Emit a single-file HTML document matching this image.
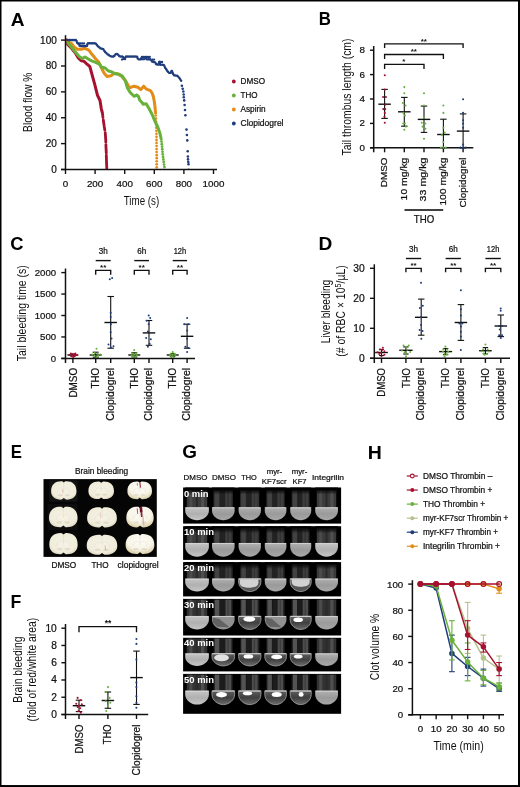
<!DOCTYPE html>
<html><head><meta charset="utf-8"><title>Figure</title>
<style>
html,body{margin:0;padding:0;background:#fff;}
body{width:520px;height:787px;overflow:hidden;}
svg{display:block;font-family:"Liberation Sans",sans-serif;will-change:transform;}
</style></head><body>
<svg width="520" height="787" viewBox="0 0 520 787">
<defs>
<filter id="bl" x="-5%" y="-5%" width="110%" height="110%"><feGaussianBlur stdDeviation="0.55"/></filter>
<filter id="bl2" x="-5%" y="-5%" width="110%" height="110%"><feGaussianBlur stdDeviation="0.75"/></filter>
<radialGradient id="brain" cx="50%" cy="45%" r="62%"><stop offset="0" stop-color="#f6f3e6"/><stop offset="0.75" stop-color="#f0ecdb"/><stop offset="1" stop-color="#d9d3b8"/></radialGradient>
<radialGradient id="brainw" cx="50%" cy="35%" r="70%"><stop offset="0" stop-color="#fdfcf6"/><stop offset="0.6" stop-color="#f7f4e8"/><stop offset="1" stop-color="#d6cb9c"/></radialGradient>
<linearGradient id="glass" x1="0" x2="1" y1="0" y2="0"><stop offset="0" stop-color="#5a5a5a"/><stop offset="0.08" stop-color="#2c2c2c"/><stop offset="0.3" stop-color="#3b3b3b"/><stop offset="0.45" stop-color="#222"/><stop offset="0.62" stop-color="#404040"/><stop offset="0.9" stop-color="#2a2a2a"/><stop offset="1" stop-color="#5a5a5a"/></linearGradient>
<linearGradient id="liq" x1="0" x2="0" y1="0" y2="1"><stop offset="0" stop-color="#b0b0b0"/><stop offset="0.5" stop-color="#9a9a9a"/><stop offset="1" stop-color="#a8a8a8"/></linearGradient>
<linearGradient id="liqF" x1="0" x2="0" y1="0" y2="1"><stop offset="0" stop-color="#c4c4c4"/><stop offset="0.5" stop-color="#b0b0b0"/><stop offset="1" stop-color="#c6c6c6"/></linearGradient>
<linearGradient id="fade" x1="0" x2="0" y1="0" y2="1"><stop offset="0" stop-color="#050505" stop-opacity="1"/><stop offset="0.4" stop-color="#050505" stop-opacity="0.85"/><stop offset="1" stop-color="#050505" stop-opacity="0"/></linearGradient>
<linearGradient id="liqd" x1="0" x2="0" y1="0" y2="1"><stop offset="0" stop-color="#5e5e5e"/><stop offset="0.5" stop-color="#404040"/><stop offset="1" stop-color="#6c6c6c"/></linearGradient>
</defs>
<rect x="0" y="0" width="520" height="787" fill="#fff"/>

<path d="M0.75 0V787M0 0.75H520M519 0V787M0 786.1H520" stroke="#000" stroke-width="1.5" fill="none"/>
<rect x="518" y="0" width="2" height="787" fill="#000"/><rect x="0" y="785.2" width="520" height="1.8" fill="#000"/>
<text transform="translate(10.80 25.7) scale(1.08 1)" font-size="17.7" font-weight="bold" fill="#000">A</text>
<polyline points="66.7,40.0 67.7,44.4 71.5,48.3 75.4,53.0 78.3,57.9 81.2,60.8 84.0,61.2 87.0,64.2 89.8,66.5 91.7,73.3 94.6,83.8 97.5,95.4 100.0,100.5 101.3,108.8 102.4,113.0" fill="none" stroke="#A5112F" stroke-width="3.0" stroke-linejoin="round" stroke-linecap="round"/>
<polyline points="102.6,114.5 102.9,117.0 103.0,117.6" fill="none" stroke="#A5112F" stroke-width="2.8" stroke-linejoin="round" stroke-linecap="round"/>
<polyline points="103.3,120.0 103.8,123.5 104.3,127.0 104.8,130.0 104.8,130.2" fill="none" stroke="#A5112F" stroke-width="2.8" stroke-linejoin="round" stroke-linecap="round"/>
<polyline points="105.2,132.6 105.3,133.5 105.6,138.0 105.8,141.0 105.8,142.2" fill="none" stroke="#A5112F" stroke-width="2.8" stroke-linejoin="round" stroke-linecap="round"/>
<polyline points="105.9,144.6 106.0,147.5 106.2,151.0 106.3,153.0" fill="none" stroke="#A5112F" stroke-width="2.8" stroke-linejoin="round" stroke-linecap="round"/>
<polyline points="106.3,155.2 106.4,158.0 106.5,161.0 106.6,164.0 106.7,166.5 106.8,168.4" fill="none" stroke="#A5112F" stroke-width="2.8" stroke-linejoin="round" stroke-linecap="round"/>
<polyline points="67.7,41.5 71.5,43.5 74.4,47.3 77.3,49.2 81.2,49.2 85.0,48.3 88.8,50.2 91.7,54.0 95.6,58.8 98.5,61.7 101.3,67.5 104.2,73.3 107.1,76.5 111.0,75.8 113.8,73.3 117.7,73.8 121.5,76.2 125.4,80.4 128.3,85.8 130.2,87.7 134.0,86.2 137.9,87.3 140.8,89.6 143.7,86.2 146.5,89.2 150.4,90.6 152.3,93.5 153.3,96.5 154.2,101.0 154.8,105.0 155.2,109.0 155.5,113.0" fill="none" stroke="#E48C18" stroke-width="3.0" stroke-linejoin="round" stroke-linecap="round"/>
<circle cx="155.71" cy="115.50" r="1.35" fill="#E48C18"/>
<circle cx="155.92" cy="118.55" r="1.35" fill="#E48C18"/>
<circle cx="156.08" cy="121.60" r="1.35" fill="#E48C18"/>
<circle cx="156.22" cy="124.65" r="1.35" fill="#E48C18"/>
<circle cx="156.29" cy="127.70" r="1.35" fill="#E48C18"/>
<circle cx="156.36" cy="130.75" r="1.35" fill="#E48C18"/>
<circle cx="156.43" cy="133.80" r="1.35" fill="#E48C18"/>
<circle cx="156.50" cy="136.85" r="1.35" fill="#E48C18"/>
<circle cx="156.50" cy="139.90" r="1.35" fill="#E48C18"/>
<circle cx="156.53" cy="142.95" r="1.35" fill="#E48C18"/>
<circle cx="156.60" cy="146.00" r="1.35" fill="#E48C18"/>
<circle cx="156.60" cy="149.05" r="1.35" fill="#E48C18"/>
<circle cx="156.64" cy="152.10" r="1.35" fill="#E48C18"/>
<circle cx="156.70" cy="155.15" r="1.35" fill="#E48C18"/>
<circle cx="156.70" cy="158.20" r="1.35" fill="#E48C18"/>
<circle cx="156.70" cy="161.25" r="1.35" fill="#E48C18"/>
<circle cx="156.70" cy="164.30" r="1.35" fill="#E48C18"/>
<circle cx="156.70" cy="167.35" r="1.35" fill="#E48C18"/>
<polyline points="67.7,42.5 71.5,47.3 75.4,52.1 79.2,56.5 82.1,58.5 85.0,57.0 87.9,58.8 91.7,60.8 95.6,62.3 99.4,64.2 101.3,67.0 105.2,68.0 108.0,70.8 112.0,72.0 114.8,73.8 118.7,74.2 122.5,76.2 125.4,81.0 127.3,87.7 130.2,92.5 134.0,96.3 137.0,95.0 138.5,96.5 139.8,100.2 141.3,101.7 143.3,104.2 146.2,103.7 149.0,108.5 152.0,114.2 154.8,121.0 157.7,126.7 160.0,133.5 161.2,139.0" fill="none" stroke="#68B13B" stroke-width="3.0" stroke-linejoin="round" stroke-linecap="round"/>
<circle cx="161.50" cy="141.60" r="1.4" fill="#68B13B"/>
<circle cx="161.79" cy="144.15" r="1.4" fill="#68B13B"/>
<circle cx="162.06" cy="146.70" r="1.4" fill="#68B13B"/>
<circle cx="162.28" cy="149.25" r="1.4" fill="#68B13B"/>
<circle cx="162.50" cy="151.80" r="1.4" fill="#68B13B"/>
<circle cx="162.75" cy="154.35" r="1.4" fill="#68B13B"/>
<circle cx="163.05" cy="156.90" r="1.4" fill="#68B13B"/>
<circle cx="163.34" cy="159.45" r="1.4" fill="#68B13B"/>
<circle cx="163.67" cy="162.00" r="1.4" fill="#68B13B"/>
<circle cx="164.04" cy="164.55" r="1.4" fill="#68B13B"/>
<circle cx="164.45" cy="167.10" r="1.4" fill="#68B13B"/>
<polyline points="67.7,40.0 76.3,40.0 77.3,43.5 79.0,43.5 79.5,46.0 87.0,46.0 87.5,43.3 95.6,43.3 97.5,45.8 100.4,48.3 103.3,49.2 105.2,52.1 108.0,54.6 111.0,56.5 113.8,56.5 115.8,54.0 117.7,54.0 119.6,56.5 123.0,56.5 123.5,59.0 125.0,59.0 125.5,56.5 137.0,56.5 137.9,59.2 140.8,59.2 141.7,57.0 145.6,57.0 146.5,59.2 150.4,59.2 152.3,61.7 155.2,62.3 156.3,64.6 158.8,64.6 159.2,61.7 160.2,64.6 164.0,65.0 165.0,67.5 167.0,70.4 168.8,72.7 170.8,72.7 171.7,70.4 173.7,75.2 177.5,75.8 179.4,78.0 181.3,81.0" fill="none" stroke="#1F3C7C" stroke-width="2.5" stroke-linejoin="round" stroke-linecap="round" stroke-dasharray="0.01 1.6"/>
<polyline points="79.2,43.4 85.2,43.4" fill="none" stroke="#1F3C7C" stroke-width="2.3" stroke-linejoin="round" stroke-linecap="round" stroke-dasharray="0.01 1.6"/>
<polyline points="122.0,59.6 123.2,59.6" fill="none" stroke="#1F3C7C" stroke-width="2.3" stroke-linejoin="round" stroke-linecap="round" stroke-dasharray="0.01 1.6"/>
<polyline points="141.2,59.2 145.8,59.2" fill="none" stroke="#1F3C7C" stroke-width="2.3" stroke-linejoin="round" stroke-linecap="round" stroke-dasharray="0.01 1.6"/>
<polyline points="146.5,57.0 150.0,57.0" fill="none" stroke="#1F3C7C" stroke-width="2.3" stroke-linejoin="round" stroke-linecap="round" stroke-dasharray="0.01 1.6"/>
<polyline points="152.5,59.6 155.0,59.6" fill="none" stroke="#1F3C7C" stroke-width="2.3" stroke-linejoin="round" stroke-linecap="round" stroke-dasharray="0.01 1.6"/>
<polyline points="160.5,62.0 163.5,62.0" fill="none" stroke="#1F3C7C" stroke-width="2.3" stroke-linejoin="round" stroke-linecap="round" stroke-dasharray="0.01 1.6"/>
<circle cx="181.90" cy="85.80" r="1.3" fill="#1F3C7C"/>
<circle cx="182.70" cy="88.70" r="1.3" fill="#1F3C7C"/>
<circle cx="183.30" cy="91.50" r="1.3" fill="#1F3C7C"/>
<circle cx="183.70" cy="94.50" r="1.3" fill="#1F3C7C"/>
<circle cx="183.80" cy="97.30" r="1.3" fill="#1F3C7C"/>
<circle cx="184.20" cy="100.40" r="1.3" fill="#1F3C7C"/>
<circle cx="184.60" cy="105.00" r="1.3" fill="#1F3C7C"/>
<circle cx="185.00" cy="110.00" r="1.3" fill="#1F3C7C"/>
<circle cx="185.40" cy="115.20" r="1.3" fill="#1F3C7C"/>
<circle cx="186.50" cy="129.60" r="1.3" fill="#1F3C7C"/>
<circle cx="186.90" cy="135.00" r="1.3" fill="#1F3C7C"/>
<circle cx="187.30" cy="140.40" r="1.3" fill="#1F3C7C"/>
<circle cx="187.70" cy="151.20" r="1.3" fill="#1F3C7C"/>
<circle cx="187.90" cy="156.50" r="1.3" fill="#1F3C7C"/>
<circle cx="188.00" cy="159.40" r="1.3" fill="#1F3C7C"/>
<circle cx="188.30" cy="162.00" r="1.3" fill="#1F3C7C"/>
<circle cx="188.50" cy="164.20" r="1.3" fill="#1F3C7C"/>
<circle cx="188.60" cy="168.80" r="0.8" fill="#8fa3cf"/>
<line x1="65.50" y1="35.20" x2="65.50" y2="170.10" stroke="#111" stroke-width="1.5" stroke-linecap="butt"/>
<line x1="61.00" y1="169.50" x2="217.00" y2="169.50" stroke="#111" stroke-width="1.5" stroke-linecap="butt"/>
<line x1="61.00" y1="169.50" x2="65.50" y2="169.50" stroke="#111" stroke-width="1.4" stroke-linecap="butt"/>
<text x="56.8" y="172.9" font-size="10" text-anchor="end" fill="#101010" stroke="#101010" stroke-width="0.22">0</text>
<line x1="61.00" y1="143.62" x2="65.50" y2="143.62" stroke="#111" stroke-width="1.4" stroke-linecap="butt"/>
<text x="56.8" y="147.02" font-size="10" text-anchor="end" fill="#101010" stroke="#101010" stroke-width="0.22">20</text>
<line x1="61.00" y1="117.74" x2="65.50" y2="117.74" stroke="#111" stroke-width="1.4" stroke-linecap="butt"/>
<text x="56.8" y="121.14" font-size="10" text-anchor="end" fill="#101010" stroke="#101010" stroke-width="0.22">40</text>
<line x1="61.00" y1="91.86" x2="65.50" y2="91.86" stroke="#111" stroke-width="1.4" stroke-linecap="butt"/>
<text x="56.8" y="95.26" font-size="10" text-anchor="end" fill="#101010" stroke="#101010" stroke-width="0.22">60</text>
<line x1="61.00" y1="65.98" x2="65.50" y2="65.98" stroke="#111" stroke-width="1.4" stroke-linecap="butt"/>
<text x="56.8" y="69.38" font-size="10" text-anchor="end" fill="#101010" stroke="#101010" stroke-width="0.22">80</text>
<line x1="61.00" y1="40.10" x2="65.50" y2="40.10" stroke="#111" stroke-width="1.4" stroke-linecap="butt"/>
<text x="56.8" y="43.49999999999999" font-size="10" text-anchor="end" fill="#101010" stroke="#101010" stroke-width="0.22">100</text>
<line x1="65.50" y1="169.50" x2="65.50" y2="174.00" stroke="#111" stroke-width="1.4" stroke-linecap="butt"/>
<text x="65.5" y="187.4" font-size="9.8" text-anchor="middle" fill="#101010" stroke="#101010" stroke-width="0.22">0</text>
<line x1="95.10" y1="169.50" x2="95.10" y2="174.00" stroke="#111" stroke-width="1.4" stroke-linecap="butt"/>
<text x="95.1" y="187.4" font-size="9.8" text-anchor="middle" fill="#101010" stroke="#101010" stroke-width="0.22">200</text>
<line x1="124.70" y1="169.50" x2="124.70" y2="174.00" stroke="#111" stroke-width="1.4" stroke-linecap="butt"/>
<text x="124.69999999999999" y="187.4" font-size="9.8" text-anchor="middle" fill="#101010" stroke="#101010" stroke-width="0.22">400</text>
<line x1="154.30" y1="169.50" x2="154.30" y2="174.00" stroke="#111" stroke-width="1.4" stroke-linecap="butt"/>
<text x="154.3" y="187.4" font-size="9.8" text-anchor="middle" fill="#101010" stroke="#101010" stroke-width="0.22">600</text>
<line x1="183.90" y1="169.50" x2="183.90" y2="174.00" stroke="#111" stroke-width="1.4" stroke-linecap="butt"/>
<text x="183.89999999999998" y="187.4" font-size="9.8" text-anchor="middle" fill="#101010" stroke="#101010" stroke-width="0.22">800</text>
<line x1="213.50" y1="169.50" x2="213.50" y2="174.00" stroke="#111" stroke-width="1.4" stroke-linecap="butt"/>
<text x="213.5" y="187.4" font-size="9.8" text-anchor="middle" fill="#101010" stroke="#101010" stroke-width="0.22">1000</text>
<text transform="translate(31.8 102.2) rotate(-90)" font-size="12" text-anchor="middle" textLength="59.4" lengthAdjust="spacingAndGlyphs" fill="#101010">Blood flow %</text>
<text x="141.5" y="205" font-size="12" text-anchor="middle" textLength="35.5" lengthAdjust="spacingAndGlyphs" fill="#101010">Time (s)</text>
<circle cx="233.80" cy="81.50" r="1.9" fill="#A5112F"/>
<text x="240.5" y="84.3" font-size="8.2" textLength="24.5" lengthAdjust="spacingAndGlyphs" fill="#101010" stroke="#101010" stroke-width="0.22">DMSO</text>
<circle cx="233.80" cy="95.50" r="1.9" fill="#68B13B"/>
<text x="240.5" y="98.3" font-size="8.2" textLength="17" lengthAdjust="spacingAndGlyphs" fill="#101010" stroke="#101010" stroke-width="0.22">THO</text>
<circle cx="233.80" cy="109.50" r="1.9" fill="#E48C18"/>
<text x="240.5" y="112.3" font-size="8.2" textLength="25.2" lengthAdjust="spacingAndGlyphs" fill="#101010" stroke="#101010" stroke-width="0.22">Aspirin</text>
<circle cx="233.80" cy="123.50" r="1.9" fill="#1F3C7C"/>
<text x="240.5" y="126.3" font-size="8.2" textLength="43" lengthAdjust="spacingAndGlyphs" fill="#101010" stroke="#101010" stroke-width="0.22">Clopidogrel</text>
<text transform="translate(318.76 25.4) scale(0.95 1)" font-size="17.7" font-weight="bold" fill="#000">B</text>
<line x1="373.70" y1="46.00" x2="373.70" y2="152.30" stroke="#111" stroke-width="1.5" stroke-linecap="butt"/>
<line x1="370.00" y1="147.80" x2="473.30" y2="147.80" stroke="#111" stroke-width="1.5" stroke-linecap="butt"/>
<line x1="370.00" y1="147.80" x2="373.70" y2="147.80" stroke="#111" stroke-width="1.4" stroke-linecap="butt"/>
<text x="364.9" y="150.70000000000002" font-size="9.8" text-anchor="end" fill="#101010" stroke="#101010" stroke-width="0.22">0</text>
<line x1="370.00" y1="123.40" x2="373.70" y2="123.40" stroke="#111" stroke-width="1.4" stroke-linecap="butt"/>
<text x="364.9" y="126.30000000000001" font-size="9.8" text-anchor="end" fill="#101010" stroke="#101010" stroke-width="0.22">2</text>
<line x1="370.00" y1="99.00" x2="373.70" y2="99.00" stroke="#111" stroke-width="1.4" stroke-linecap="butt"/>
<text x="364.9" y="101.90000000000002" font-size="9.8" text-anchor="end" fill="#101010" stroke="#101010" stroke-width="0.22">4</text>
<line x1="370.00" y1="74.60" x2="373.70" y2="74.60" stroke="#111" stroke-width="1.4" stroke-linecap="butt"/>
<text x="364.9" y="77.50000000000003" font-size="9.8" text-anchor="end" fill="#101010" stroke="#101010" stroke-width="0.22">6</text>
<line x1="370.00" y1="50.20" x2="373.70" y2="50.20" stroke="#111" stroke-width="1.4" stroke-linecap="butt"/>
<text x="364.9" y="53.100000000000016" font-size="9.8" text-anchor="end" fill="#101010" stroke="#101010" stroke-width="0.22">8</text>
<line x1="384.60" y1="147.80" x2="384.60" y2="152.30" stroke="#111" stroke-width="1.4" stroke-linecap="butt"/>
<line x1="404.30" y1="147.80" x2="404.30" y2="152.30" stroke="#111" stroke-width="1.4" stroke-linecap="butt"/>
<line x1="424.00" y1="147.80" x2="424.00" y2="152.30" stroke="#111" stroke-width="1.4" stroke-linecap="butt"/>
<line x1="443.40" y1="147.80" x2="443.40" y2="152.30" stroke="#111" stroke-width="1.4" stroke-linecap="butt"/>
<line x1="463.10" y1="147.80" x2="463.10" y2="152.30" stroke="#111" stroke-width="1.4" stroke-linecap="butt"/>
<text transform="translate(350.8 97) rotate(-90)" font-size="12" text-anchor="middle" textLength="117" lengthAdjust="spacingAndGlyphs" fill="#101010">Tail thrombus length (cm)</text>
<line x1="384.60" y1="89.40" x2="384.60" y2="118.40" stroke="#111" stroke-width="1.1" stroke-linecap="butt"/>
<line x1="378.35" y1="104.20" x2="390.85" y2="104.20" stroke="#111" stroke-width="1.4000000000000001" stroke-linecap="butt"/>
<line x1="381.35" y1="89.40" x2="387.85" y2="89.40" stroke="#111" stroke-width="1.1" stroke-linecap="butt"/>
<line x1="381.35" y1="118.40" x2="387.85" y2="118.40" stroke="#111" stroke-width="1.1" stroke-linecap="butt"/>
<line x1="404.30" y1="97.40" x2="404.30" y2="126.20" stroke="#111" stroke-width="1.1" stroke-linecap="butt"/>
<line x1="398.05" y1="111.80" x2="410.55" y2="111.80" stroke="#111" stroke-width="1.4000000000000001" stroke-linecap="butt"/>
<line x1="401.05" y1="97.40" x2="407.55" y2="97.40" stroke="#111" stroke-width="1.1" stroke-linecap="butt"/>
<line x1="401.05" y1="126.20" x2="407.55" y2="126.20" stroke="#111" stroke-width="1.1" stroke-linecap="butt"/>
<line x1="424.00" y1="106.10" x2="424.00" y2="132.40" stroke="#111" stroke-width="1.1" stroke-linecap="butt"/>
<line x1="417.75" y1="119.40" x2="430.25" y2="119.40" stroke="#111" stroke-width="1.4000000000000001" stroke-linecap="butt"/>
<line x1="420.75" y1="106.10" x2="427.25" y2="106.10" stroke="#111" stroke-width="1.1" stroke-linecap="butt"/>
<line x1="420.75" y1="132.40" x2="427.25" y2="132.40" stroke="#111" stroke-width="1.1" stroke-linecap="butt"/>
<line x1="443.40" y1="119.20" x2="443.40" y2="147.80" stroke="#111" stroke-width="1.1" stroke-linecap="butt"/>
<line x1="437.15" y1="134.50" x2="449.65" y2="134.50" stroke="#111" stroke-width="1.4000000000000001" stroke-linecap="butt"/>
<line x1="440.15" y1="119.20" x2="446.65" y2="119.20" stroke="#111" stroke-width="1.1" stroke-linecap="butt"/>
<line x1="440.15" y1="147.80" x2="446.65" y2="147.80" stroke="#111" stroke-width="1.1" stroke-linecap="butt"/>
<line x1="463.10" y1="113.90" x2="463.10" y2="147.80" stroke="#111" stroke-width="1.1" stroke-linecap="butt"/>
<line x1="456.85" y1="131.10" x2="469.35" y2="131.10" stroke="#111" stroke-width="1.4000000000000001" stroke-linecap="butt"/>
<line x1="459.85" y1="113.90" x2="466.35" y2="113.90" stroke="#111" stroke-width="1.1" stroke-linecap="butt"/>
<line x1="459.85" y1="147.80" x2="466.35" y2="147.80" stroke="#111" stroke-width="1.1" stroke-linecap="butt"/>
<circle cx="384.80" cy="75.20" r="1.05" fill="#A5112F"/>
<circle cx="383.10" cy="97.00" r="1.05" fill="#A5112F"/>
<circle cx="385.90" cy="97.00" r="1.05" fill="#A5112F"/>
<circle cx="384.80" cy="89.60" r="1.05" fill="#A5112F"/>
<circle cx="385.20" cy="109.10" r="1.05" fill="#A5112F"/>
<circle cx="383.30" cy="109.10" r="1.05" fill="#A5112F"/>
<circle cx="384.80" cy="112.90" r="1.05" fill="#A5112F"/>
<circle cx="384.40" cy="116.70" r="1.05" fill="#A5112F"/>
<circle cx="384.80" cy="122.80" r="1.05" fill="#A5112F"/>
<circle cx="385.60" cy="104.50" r="1.05" fill="#A5112F"/>
<circle cx="404.30" cy="87.10" r="1.05" fill="#68B13B"/>
<circle cx="404.30" cy="93.20" r="1.05" fill="#68B13B"/>
<circle cx="402.80" cy="103.00" r="1.05" fill="#68B13B"/>
<circle cx="405.50" cy="105.50" r="1.05" fill="#68B13B"/>
<circle cx="403.40" cy="112.90" r="1.05" fill="#68B13B"/>
<circle cx="404.90" cy="115.40" r="1.05" fill="#68B13B"/>
<circle cx="403.20" cy="123.50" r="1.05" fill="#68B13B"/>
<circle cx="404.90" cy="123.50" r="1.05" fill="#68B13B"/>
<circle cx="406.00" cy="126.60" r="1.05" fill="#68B13B"/>
<circle cx="404.30" cy="129.80" r="1.05" fill="#68B13B"/>
<circle cx="424.00" cy="93.20" r="1.05" fill="#68B13B"/>
<circle cx="424.00" cy="105.50" r="1.05" fill="#68B13B"/>
<circle cx="424.00" cy="117.50" r="1.05" fill="#68B13B"/>
<circle cx="421.80" cy="122.80" r="1.05" fill="#68B13B"/>
<circle cx="425.40" cy="123.50" r="1.05" fill="#68B13B"/>
<circle cx="422.50" cy="126.60" r="1.05" fill="#68B13B"/>
<circle cx="425.40" cy="128.80" r="1.05" fill="#68B13B"/>
<circle cx="424.00" cy="138.70" r="1.05" fill="#68B13B"/>
<circle cx="443.40" cy="105.50" r="1.05" fill="#68B13B"/>
<circle cx="443.40" cy="112.90" r="1.05" fill="#68B13B"/>
<circle cx="443.40" cy="127.70" r="1.05" fill="#68B13B"/>
<circle cx="444.70" cy="132.60" r="1.05" fill="#68B13B"/>
<circle cx="441.90" cy="135.10" r="1.05" fill="#68B13B"/>
<circle cx="443.40" cy="142.10" r="1.05" fill="#68B13B"/>
<circle cx="440.90" cy="147.60" r="1.05" fill="#68B13B"/>
<circle cx="443.40" cy="147.60" r="1.05" fill="#68B13B"/>
<circle cx="445.70" cy="147.60" r="1.05" fill="#68B13B"/>
<circle cx="463.10" cy="99.30" r="1.05" fill="#1F3C7C"/>
<circle cx="463.10" cy="112.90" r="1.05" fill="#1F3C7C"/>
<circle cx="463.10" cy="120.30" r="1.05" fill="#1F3C7C"/>
<circle cx="463.10" cy="123.50" r="1.05" fill="#1F3C7C"/>
<circle cx="463.10" cy="127.70" r="1.05" fill="#1F3C7C"/>
<circle cx="463.10" cy="144.60" r="1.05" fill="#1F3C7C"/>
<circle cx="460.50" cy="147.60" r="1.05" fill="#1F3C7C"/>
<circle cx="463.10" cy="147.60" r="1.05" fill="#1F3C7C"/>
<circle cx="465.60" cy="147.60" r="1.05" fill="#1F3C7C"/>
<path d="M384.60 48.10V43.80H463.10V48.10" fill="none" stroke="#111" stroke-width="1.35"/>
<text x="423.8" y="43.6" font-size="8" text-anchor="middle" font-weight="bold" fill="#101010">**</text>
<path d="M384.60 59.10V54.50H443.40V59.10" fill="none" stroke="#111" stroke-width="1.35"/>
<text x="413.8" y="54.3" font-size="8" text-anchor="middle" font-weight="bold" fill="#101010">**</text>
<path d="M384.60 68.90V64.30H424.00V68.90" fill="none" stroke="#111" stroke-width="1.35"/>
<text x="403.9" y="64.1" font-size="8" text-anchor="middle" font-weight="bold" fill="#101010">*</text>
<text transform="translate(386.90000000000003 157.6) rotate(-90)" font-size="9.6" text-anchor="end" textLength="29.6" lengthAdjust="spacingAndGlyphs" fill="#101010" stroke="#101010" stroke-width="0.22">DMSO</text>
<text transform="translate(406.5 157.6) rotate(-90)" font-size="9.6" text-anchor="end" textLength="42.8" lengthAdjust="spacingAndGlyphs" fill="#101010" stroke="#101010" stroke-width="0.22">10 mg/kg</text>
<text transform="translate(426.3 157.6) rotate(-90)" font-size="9.6" text-anchor="end" textLength="43.8" lengthAdjust="spacingAndGlyphs" fill="#101010" stroke="#101010" stroke-width="0.22">33 mg/kg</text>
<text transform="translate(446.29999999999995 157.6) rotate(-90)" font-size="9.6" text-anchor="end" textLength="48" lengthAdjust="spacingAndGlyphs" fill="#101010" stroke="#101010" stroke-width="0.22">100 mg/kg</text>
<text transform="translate(466.0 157.6) rotate(-90)" font-size="9.6" text-anchor="end" textLength="50" lengthAdjust="spacingAndGlyphs" fill="#101010" stroke="#101010" stroke-width="0.22">Clopidogrel</text>
<line x1="404.50" y1="209.90" x2="443.20" y2="209.90" stroke="#000" stroke-width="1.5" stroke-linecap="butt"/>
<text x="424" y="223.2" font-size="10.2" text-anchor="middle" textLength="20.4" lengthAdjust="spacingAndGlyphs" fill="#101010" stroke="#101010" stroke-width="0.22">THO</text>
<text transform="translate(10.37 249.6) scale(1.04 1)" font-size="17.7" font-weight="bold" fill="#000">C</text>
<line x1="72.90" y1="354.00" x2="72.90" y2="356.00" stroke="#111" stroke-width="1.1" stroke-linecap="butt"/>
<line x1="67.40" y1="355.00" x2="78.40" y2="355.00" stroke="#111" stroke-width="1.4000000000000001" stroke-linecap="butt"/>
<line x1="70.40" y1="354.00" x2="75.40" y2="354.00" stroke="#111" stroke-width="1.1" stroke-linecap="butt"/>
<line x1="70.40" y1="356.00" x2="75.40" y2="356.00" stroke="#111" stroke-width="1.1" stroke-linecap="butt"/>
<line x1="95.70" y1="352.20" x2="95.70" y2="357.20" stroke="#111" stroke-width="1.1" stroke-linecap="butt"/>
<line x1="89.70" y1="355.00" x2="101.70" y2="355.00" stroke="#111" stroke-width="1.4000000000000001" stroke-linecap="butt"/>
<line x1="92.70" y1="352.20" x2="98.70" y2="352.20" stroke="#111" stroke-width="1.1" stroke-linecap="butt"/>
<line x1="92.70" y1="357.20" x2="98.70" y2="357.20" stroke="#111" stroke-width="1.1" stroke-linecap="butt"/>
<line x1="110.70" y1="296.50" x2="110.70" y2="348.20" stroke="#111" stroke-width="1.1" stroke-linecap="butt"/>
<line x1="104.45" y1="322.50" x2="116.95" y2="322.50" stroke="#111" stroke-width="1.4000000000000001" stroke-linecap="butt"/>
<line x1="107.45" y1="296.50" x2="113.95" y2="296.50" stroke="#111" stroke-width="1.1" stroke-linecap="butt"/>
<line x1="107.45" y1="348.20" x2="113.95" y2="348.20" stroke="#111" stroke-width="1.1" stroke-linecap="butt"/>
<line x1="134.30" y1="352.80" x2="134.30" y2="357.00" stroke="#111" stroke-width="1.1" stroke-linecap="butt"/>
<line x1="128.30" y1="355.00" x2="140.30" y2="355.00" stroke="#111" stroke-width="1.4000000000000001" stroke-linecap="butt"/>
<line x1="131.30" y1="352.80" x2="137.30" y2="352.80" stroke="#111" stroke-width="1.1" stroke-linecap="butt"/>
<line x1="131.30" y1="357.00" x2="137.30" y2="357.00" stroke="#111" stroke-width="1.1" stroke-linecap="butt"/>
<line x1="149.00" y1="320.50" x2="149.00" y2="345.30" stroke="#111" stroke-width="1.1" stroke-linecap="butt"/>
<line x1="142.75" y1="332.90" x2="155.25" y2="332.90" stroke="#111" stroke-width="1.4000000000000001" stroke-linecap="butt"/>
<line x1="145.75" y1="320.50" x2="152.25" y2="320.50" stroke="#111" stroke-width="1.1" stroke-linecap="butt"/>
<line x1="145.75" y1="345.30" x2="152.25" y2="345.30" stroke="#111" stroke-width="1.1" stroke-linecap="butt"/>
<line x1="172.70" y1="353.50" x2="172.70" y2="356.50" stroke="#111" stroke-width="1.1" stroke-linecap="butt"/>
<line x1="166.70" y1="355.00" x2="178.70" y2="355.00" stroke="#111" stroke-width="1.4000000000000001" stroke-linecap="butt"/>
<line x1="170.20" y1="353.50" x2="175.20" y2="353.50" stroke="#111" stroke-width="1.1" stroke-linecap="butt"/>
<line x1="170.20" y1="356.50" x2="175.20" y2="356.50" stroke="#111" stroke-width="1.1" stroke-linecap="butt"/>
<line x1="187.10" y1="324.20" x2="187.10" y2="348.20" stroke="#111" stroke-width="1.1" stroke-linecap="butt"/>
<line x1="180.85" y1="336.30" x2="193.35" y2="336.30" stroke="#111" stroke-width="1.4000000000000001" stroke-linecap="butt"/>
<line x1="183.85" y1="324.20" x2="190.35" y2="324.20" stroke="#111" stroke-width="1.1" stroke-linecap="butt"/>
<line x1="183.85" y1="348.20" x2="190.35" y2="348.20" stroke="#111" stroke-width="1.1" stroke-linecap="butt"/>
<circle cx="70.80" cy="353.50" r="1.0" fill="#A5112F"/>
<circle cx="75.40" cy="353.50" r="1.0" fill="#A5112F"/>
<circle cx="69.50" cy="355.10" r="1.0" fill="#A5112F"/>
<circle cx="73.10" cy="355.40" r="1.0" fill="#A5112F"/>
<circle cx="76.60" cy="354.90" r="1.0" fill="#A5112F"/>
<circle cx="71.50" cy="356.20" r="1.0" fill="#A5112F"/>
<circle cx="74.60" cy="356.20" r="1.0" fill="#A5112F"/>
<circle cx="73.10" cy="356.90" r="1.0" fill="#A5112F"/>
<circle cx="72.20" cy="354.30" r="1.0" fill="#A5112F"/>
<circle cx="74.00" cy="354.30" r="1.0" fill="#A5112F"/>
<circle cx="96.50" cy="348.80" r="1.0" fill="#68B13B"/>
<circle cx="94.90" cy="353.00" r="1.0" fill="#68B13B"/>
<circle cx="92.30" cy="354.60" r="1.0" fill="#68B13B"/>
<circle cx="100.30" cy="354.60" r="1.0" fill="#68B13B"/>
<circle cx="94.60" cy="355.70" r="1.0" fill="#68B13B"/>
<circle cx="98.20" cy="355.70" r="1.0" fill="#68B13B"/>
<circle cx="96.50" cy="356.90" r="1.0" fill="#68B13B"/>
<circle cx="96.50" cy="357.70" r="1.0" fill="#68B13B"/>
<circle cx="97.60" cy="353.60" r="1.0" fill="#68B13B"/>
<circle cx="109.80" cy="279.20" r="1.0" fill="#1F3C7C"/>
<circle cx="112.10" cy="278.00" r="1.0" fill="#1F3C7C"/>
<circle cx="110.70" cy="312.70" r="1.0" fill="#1F3C7C"/>
<circle cx="110.70" cy="317.00" r="1.0" fill="#1F3C7C"/>
<circle cx="110.90" cy="324.20" r="1.0" fill="#1F3C7C"/>
<circle cx="110.70" cy="332.30" r="1.0" fill="#1F3C7C"/>
<circle cx="111.50" cy="338.60" r="1.0" fill="#1F3C7C"/>
<circle cx="108.50" cy="344.60" r="1.0" fill="#1F3C7C"/>
<circle cx="113.50" cy="346.20" r="1.0" fill="#1F3C7C"/>
<circle cx="110.80" cy="347.40" r="1.0" fill="#1F3C7C"/>
<circle cx="134.20" cy="350.00" r="1.0" fill="#68B13B"/>
<circle cx="132.30" cy="353.50" r="1.0" fill="#68B13B"/>
<circle cx="136.20" cy="353.50" r="1.0" fill="#68B13B"/>
<circle cx="131.50" cy="355.40" r="1.0" fill="#68B13B"/>
<circle cx="136.90" cy="355.40" r="1.0" fill="#68B13B"/>
<circle cx="133.80" cy="356.20" r="1.0" fill="#68B13B"/>
<circle cx="135.40" cy="356.90" r="1.0" fill="#68B13B"/>
<circle cx="134.30" cy="354.40" r="1.0" fill="#68B13B"/>
<circle cx="133.00" cy="357.20" r="1.0" fill="#68B13B"/>
<circle cx="148.70" cy="315.60" r="1.0" fill="#1F3C7C"/>
<circle cx="150.20" cy="317.90" r="1.0" fill="#1F3C7C"/>
<circle cx="146.70" cy="320.80" r="1.0" fill="#1F3C7C"/>
<circle cx="148.70" cy="324.20" r="1.0" fill="#1F3C7C"/>
<circle cx="147.90" cy="331.40" r="1.0" fill="#1F3C7C"/>
<circle cx="146.10" cy="338.00" r="1.0" fill="#1F3C7C"/>
<circle cx="150.80" cy="339.20" r="1.0" fill="#1F3C7C"/>
<circle cx="149.60" cy="343.80" r="1.0" fill="#1F3C7C"/>
<circle cx="147.90" cy="346.70" r="1.0" fill="#1F3C7C"/>
<circle cx="172.70" cy="352.00" r="1.0" fill="#68B13B"/>
<circle cx="170.80" cy="353.80" r="1.0" fill="#68B13B"/>
<circle cx="174.60" cy="353.80" r="1.0" fill="#68B13B"/>
<circle cx="169.90" cy="355.40" r="1.0" fill="#68B13B"/>
<circle cx="175.40" cy="355.40" r="1.0" fill="#68B13B"/>
<circle cx="172.20" cy="356.20" r="1.0" fill="#68B13B"/>
<circle cx="173.80" cy="356.90" r="1.0" fill="#68B13B"/>
<circle cx="172.70" cy="354.60" r="1.0" fill="#68B13B"/>
<circle cx="171.40" cy="357.00" r="1.0" fill="#68B13B"/>
<circle cx="187.10" cy="317.90" r="1.0" fill="#1F3C7C"/>
<circle cx="184.20" cy="324.20" r="1.0" fill="#1F3C7C"/>
<circle cx="188.20" cy="324.20" r="1.0" fill="#1F3C7C"/>
<circle cx="187.10" cy="330.60" r="1.0" fill="#1F3C7C"/>
<circle cx="187.10" cy="338.70" r="1.0" fill="#1F3C7C"/>
<circle cx="185.40" cy="346.70" r="1.0" fill="#1F3C7C"/>
<circle cx="188.50" cy="347.90" r="1.0" fill="#1F3C7C"/>
<circle cx="187.10" cy="351.90" r="1.0" fill="#1F3C7C"/>
<line x1="65.50" y1="268.50" x2="65.50" y2="363.00" stroke="#111" stroke-width="1.5" stroke-linecap="butt"/>
<line x1="61.30" y1="358.40" x2="195.00" y2="358.40" stroke="#111" stroke-width="1.5" stroke-linecap="butt"/>
<line x1="61.30" y1="358.40" x2="65.50" y2="358.40" stroke="#111" stroke-width="1.4" stroke-linecap="butt"/>
<text x="56.1" y="361.5" font-size="9.6" text-anchor="end" fill="#101010" stroke="#101010" stroke-width="0.22">0</text>
<line x1="61.30" y1="336.95" x2="65.50" y2="336.95" stroke="#111" stroke-width="1.4" stroke-linecap="butt"/>
<text x="56.1" y="340.05" font-size="9.6" text-anchor="end" fill="#101010" stroke="#101010" stroke-width="0.22">500</text>
<line x1="61.30" y1="315.50" x2="65.50" y2="315.50" stroke="#111" stroke-width="1.4" stroke-linecap="butt"/>
<text x="56.1" y="318.6" font-size="9.6" text-anchor="end" fill="#101010" stroke="#101010" stroke-width="0.22">1000</text>
<line x1="61.30" y1="294.05" x2="65.50" y2="294.05" stroke="#111" stroke-width="1.4" stroke-linecap="butt"/>
<text x="56.1" y="297.15" font-size="9.6" text-anchor="end" fill="#101010" stroke="#101010" stroke-width="0.22">1500</text>
<line x1="61.30" y1="272.60" x2="65.50" y2="272.60" stroke="#111" stroke-width="1.4" stroke-linecap="butt"/>
<text x="56.1" y="275.7" font-size="9.6" text-anchor="end" fill="#101010" stroke="#101010" stroke-width="0.22">2000</text>
<line x1="72.90" y1="358.40" x2="72.90" y2="363.00" stroke="#111" stroke-width="1.4" stroke-linecap="butt"/>
<line x1="95.70" y1="358.40" x2="95.70" y2="363.00" stroke="#111" stroke-width="1.4" stroke-linecap="butt"/>
<line x1="110.70" y1="358.40" x2="110.70" y2="363.00" stroke="#111" stroke-width="1.4" stroke-linecap="butt"/>
<line x1="134.30" y1="358.40" x2="134.30" y2="363.00" stroke="#111" stroke-width="1.4" stroke-linecap="butt"/>
<line x1="149.00" y1="358.40" x2="149.00" y2="363.00" stroke="#111" stroke-width="1.4" stroke-linecap="butt"/>
<line x1="172.70" y1="358.40" x2="172.70" y2="363.00" stroke="#111" stroke-width="1.4" stroke-linecap="butt"/>
<line x1="187.10" y1="358.40" x2="187.10" y2="363.00" stroke="#111" stroke-width="1.4" stroke-linecap="butt"/>
<text transform="translate(26.2 313.2) rotate(-90)" font-size="12" text-anchor="middle" textLength="96" lengthAdjust="spacingAndGlyphs" fill="#101010">Tail bleeding time (s)</text>
<line x1="95.70" y1="260.60" x2="110.70" y2="260.60" stroke="#111" stroke-width="1.4" stroke-linecap="butt"/>
<path d="M95.70 274.70V270.40H110.70V274.70" fill="none" stroke="#111" stroke-width="1.35"/>
<text x="103.2" y="270.0" font-size="8" text-anchor="middle" font-weight="bold" fill="#101010">**</text>
<text x="103.2" y="253.8" font-size="8.2" text-anchor="middle" textLength="9" lengthAdjust="spacingAndGlyphs" fill="#101010" stroke="#101010" stroke-width="0.22">3h</text>
<line x1="134.30" y1="260.60" x2="149.00" y2="260.60" stroke="#111" stroke-width="1.4" stroke-linecap="butt"/>
<path d="M134.30 274.70V270.40H149.00V274.70" fill="none" stroke="#111" stroke-width="1.35"/>
<text x="141.65" y="270.0" font-size="8" text-anchor="middle" font-weight="bold" fill="#101010">**</text>
<text x="141.65" y="253.8" font-size="8.2" text-anchor="middle" textLength="9" lengthAdjust="spacingAndGlyphs" fill="#101010" stroke="#101010" stroke-width="0.22">6h</text>
<line x1="172.70" y1="260.60" x2="187.10" y2="260.60" stroke="#111" stroke-width="1.4" stroke-linecap="butt"/>
<path d="M172.70 274.70V270.40H187.10V274.70" fill="none" stroke="#111" stroke-width="1.35"/>
<text x="179.89999999999998" y="270.0" font-size="8" text-anchor="middle" font-weight="bold" fill="#101010">**</text>
<text x="179.89999999999998" y="253.8" font-size="8.2" text-anchor="middle" textLength="12.5" lengthAdjust="spacingAndGlyphs" fill="#101010" stroke="#101010" stroke-width="0.22">12h</text>
<text transform="translate(76.60000000000001 367.9) rotate(-90)" font-size="10.2" text-anchor="end" textLength="29.7" lengthAdjust="spacingAndGlyphs" fill="#101010" stroke="#101010" stroke-width="0.22">DMSO</text>
<text transform="translate(99.4 367.9) rotate(-90)" font-size="10.2" text-anchor="end" textLength="20.5" lengthAdjust="spacingAndGlyphs" fill="#101010" stroke="#101010" stroke-width="0.22">THO</text>
<text transform="translate(113.60000000000001 367.9) rotate(-90)" font-size="10.2" text-anchor="end" textLength="52.8" lengthAdjust="spacingAndGlyphs" fill="#101010" stroke="#101010" stroke-width="0.22">Clopidogrel</text>
<text transform="translate(138.0 367.9) rotate(-90)" font-size="10.2" text-anchor="end" textLength="20.5" lengthAdjust="spacingAndGlyphs" fill="#101010" stroke="#101010" stroke-width="0.22">THO</text>
<text transform="translate(151.9 367.9) rotate(-90)" font-size="10.2" text-anchor="end" textLength="52.8" lengthAdjust="spacingAndGlyphs" fill="#101010" stroke="#101010" stroke-width="0.22">Clopidogrel</text>
<text transform="translate(176.39999999999998 367.9) rotate(-90)" font-size="10.2" text-anchor="end" textLength="20.5" lengthAdjust="spacingAndGlyphs" fill="#101010" stroke="#101010" stroke-width="0.22">THO</text>
<text transform="translate(190.0 367.9) rotate(-90)" font-size="10.2" text-anchor="end" textLength="52.8" lengthAdjust="spacingAndGlyphs" fill="#101010" stroke="#101010" stroke-width="0.22">Clopidogrel</text>
<text transform="translate(318.60 249.6) scale(1.08 1)" font-size="17.7" font-weight="bold" fill="#000">D</text>
<line x1="381.50" y1="349.40" x2="381.50" y2="355.50" stroke="#111" stroke-width="1.1" stroke-linecap="butt"/>
<line x1="375.15" y1="352.50" x2="387.85" y2="352.50" stroke="#111" stroke-width="1.4000000000000001" stroke-linecap="butt"/>
<line x1="379.10" y1="349.40" x2="383.90" y2="349.40" stroke="#111" stroke-width="1.1" stroke-linecap="butt"/>
<line x1="379.10" y1="355.50" x2="383.90" y2="355.50" stroke="#111" stroke-width="1.1" stroke-linecap="butt"/>
<line x1="405.90" y1="346.90" x2="405.90" y2="354.00" stroke="#111" stroke-width="1.1" stroke-linecap="butt"/>
<line x1="399.25" y1="350.30" x2="412.55" y2="350.30" stroke="#111" stroke-width="1.4000000000000001" stroke-linecap="butt"/>
<line x1="403.20" y1="346.90" x2="408.60" y2="346.90" stroke="#111" stroke-width="1.1" stroke-linecap="butt"/>
<line x1="403.20" y1="354.00" x2="408.60" y2="354.00" stroke="#111" stroke-width="1.1" stroke-linecap="butt"/>
<line x1="421.20" y1="299.10" x2="421.20" y2="335.20" stroke="#111" stroke-width="1.1" stroke-linecap="butt"/>
<line x1="414.95" y1="317.30" x2="427.45" y2="317.30" stroke="#111" stroke-width="1.4000000000000001" stroke-linecap="butt"/>
<line x1="417.95" y1="299.10" x2="424.45" y2="299.10" stroke="#111" stroke-width="1.1" stroke-linecap="butt"/>
<line x1="417.95" y1="335.20" x2="424.45" y2="335.20" stroke="#111" stroke-width="1.1" stroke-linecap="butt"/>
<line x1="445.60" y1="348.50" x2="445.60" y2="354.70" stroke="#111" stroke-width="1.1" stroke-linecap="butt"/>
<line x1="439.10" y1="351.60" x2="452.10" y2="351.60" stroke="#111" stroke-width="1.4000000000000001" stroke-linecap="butt"/>
<line x1="442.90" y1="348.50" x2="448.30" y2="348.50" stroke="#111" stroke-width="1.1" stroke-linecap="butt"/>
<line x1="442.90" y1="354.70" x2="448.30" y2="354.70" stroke="#111" stroke-width="1.1" stroke-linecap="butt"/>
<line x1="460.90" y1="304.60" x2="460.90" y2="340.40" stroke="#111" stroke-width="1.1" stroke-linecap="butt"/>
<line x1="454.65" y1="322.50" x2="467.15" y2="322.50" stroke="#111" stroke-width="1.4000000000000001" stroke-linecap="butt"/>
<line x1="457.65" y1="304.60" x2="464.15" y2="304.60" stroke="#111" stroke-width="1.1" stroke-linecap="butt"/>
<line x1="457.65" y1="340.40" x2="464.15" y2="340.40" stroke="#111" stroke-width="1.1" stroke-linecap="butt"/>
<line x1="485.40" y1="347.60" x2="485.40" y2="353.80" stroke="#111" stroke-width="1.1" stroke-linecap="butt"/>
<line x1="479.10" y1="350.70" x2="491.70" y2="350.70" stroke="#111" stroke-width="1.4000000000000001" stroke-linecap="butt"/>
<line x1="482.70" y1="347.60" x2="488.10" y2="347.60" stroke="#111" stroke-width="1.1" stroke-linecap="butt"/>
<line x1="482.70" y1="353.80" x2="488.10" y2="353.80" stroke="#111" stroke-width="1.1" stroke-linecap="butt"/>
<line x1="500.80" y1="315.00" x2="500.80" y2="336.60" stroke="#111" stroke-width="1.1" stroke-linecap="butt"/>
<line x1="494.55" y1="326.00" x2="507.05" y2="326.00" stroke="#111" stroke-width="1.4000000000000001" stroke-linecap="butt"/>
<line x1="497.55" y1="315.00" x2="504.05" y2="315.00" stroke="#111" stroke-width="1.1" stroke-linecap="butt"/>
<line x1="497.55" y1="336.60" x2="504.05" y2="336.60" stroke="#111" stroke-width="1.1" stroke-linecap="butt"/>
<circle cx="382.90" cy="347.70" r="1.0" fill="#A5112F"/>
<circle cx="379.80" cy="349.40" r="1.0" fill="#A5112F"/>
<circle cx="384.40" cy="351.20" r="1.0" fill="#A5112F"/>
<circle cx="377.50" cy="352.30" r="1.0" fill="#A5112F"/>
<circle cx="379.20" cy="354.00" r="1.0" fill="#A5112F"/>
<circle cx="384.40" cy="354.80" r="1.0" fill="#A5112F"/>
<circle cx="381.50" cy="356.30" r="1.0" fill="#A5112F"/>
<circle cx="382.10" cy="350.00" r="1.0" fill="#A5112F"/>
<circle cx="381.00" cy="353.00" r="1.0" fill="#A5112F"/>
<circle cx="403.50" cy="345.60" r="1.0" fill="#68B13B"/>
<circle cx="408.70" cy="345.60" r="1.0" fill="#68B13B"/>
<circle cx="406.00" cy="347.10" r="1.0" fill="#68B13B"/>
<circle cx="401.70" cy="350.60" r="1.0" fill="#68B13B"/>
<circle cx="410.20" cy="352.10" r="1.0" fill="#68B13B"/>
<circle cx="406.00" cy="356.30" r="1.0" fill="#68B13B"/>
<circle cx="404.60" cy="352.30" r="1.0" fill="#68B13B"/>
<circle cx="407.40" cy="349.80" r="1.0" fill="#68B13B"/>
<circle cx="406.00" cy="353.60" r="1.0" fill="#68B13B"/>
<circle cx="421.00" cy="282.70" r="1.0" fill="#1F3C7C"/>
<circle cx="422.80" cy="305.80" r="1.0" fill="#1F3C7C"/>
<circle cx="419.90" cy="308.00" r="1.0" fill="#1F3C7C"/>
<circle cx="421.00" cy="317.30" r="1.0" fill="#1F3C7C"/>
<circle cx="421.00" cy="325.10" r="1.0" fill="#1F3C7C"/>
<circle cx="419.60" cy="330.00" r="1.0" fill="#1F3C7C"/>
<circle cx="422.50" cy="331.10" r="1.0" fill="#1F3C7C"/>
<circle cx="421.30" cy="338.80" r="1.0" fill="#1F3C7C"/>
<circle cx="445.40" cy="346.50" r="1.0" fill="#68B13B"/>
<circle cx="443.50" cy="349.20" r="1.0" fill="#68B13B"/>
<circle cx="447.20" cy="349.60" r="1.0" fill="#68B13B"/>
<circle cx="442.90" cy="351.60" r="1.0" fill="#68B13B"/>
<circle cx="448.20" cy="351.90" r="1.0" fill="#68B13B"/>
<circle cx="444.60" cy="353.80" r="1.0" fill="#68B13B"/>
<circle cx="446.90" cy="354.20" r="1.0" fill="#68B13B"/>
<circle cx="444.60" cy="356.50" r="1.0" fill="#68B13B"/>
<circle cx="460.90" cy="290.20" r="1.0" fill="#1F3C7C"/>
<circle cx="460.90" cy="309.20" r="1.0" fill="#1F3C7C"/>
<circle cx="460.90" cy="315.60" r="1.0" fill="#1F3C7C"/>
<circle cx="459.40" cy="323.60" r="1.0" fill="#1F3C7C"/>
<circle cx="462.30" cy="323.60" r="1.0" fill="#1F3C7C"/>
<circle cx="460.90" cy="326.50" r="1.0" fill="#1F3C7C"/>
<circle cx="460.90" cy="331.70" r="1.0" fill="#1F3C7C"/>
<circle cx="460.90" cy="336.60" r="1.0" fill="#1F3C7C"/>
<circle cx="460.80" cy="349.90" r="1.0" fill="#1F3C7C"/>
<circle cx="485.40" cy="344.50" r="1.0" fill="#68B13B"/>
<circle cx="483.10" cy="349.60" r="1.0" fill="#68B13B"/>
<circle cx="487.70" cy="349.60" r="1.0" fill="#68B13B"/>
<circle cx="481.50" cy="351.20" r="1.0" fill="#68B13B"/>
<circle cx="489.20" cy="351.60" r="1.0" fill="#68B13B"/>
<circle cx="483.80" cy="353.50" r="1.0" fill="#68B13B"/>
<circle cx="486.90" cy="353.80" r="1.0" fill="#68B13B"/>
<circle cx="484.60" cy="354.70" r="1.0" fill="#68B13B"/>
<circle cx="500.70" cy="308.40" r="1.0" fill="#1F3C7C"/>
<circle cx="500.70" cy="310.70" r="1.0" fill="#1F3C7C"/>
<circle cx="499.20" cy="326.00" r="1.0" fill="#1F3C7C"/>
<circle cx="502.10" cy="326.00" r="1.0" fill="#1F3C7C"/>
<circle cx="499.80" cy="329.40" r="1.0" fill="#1F3C7C"/>
<circle cx="499.20" cy="335.20" r="1.0" fill="#1F3C7C"/>
<circle cx="502.10" cy="335.20" r="1.0" fill="#1F3C7C"/>
<circle cx="500.80" cy="338.00" r="1.0" fill="#1F3C7C"/>
<line x1="374.30" y1="264.30" x2="374.30" y2="363.00" stroke="#111" stroke-width="1.5" stroke-linecap="butt"/>
<line x1="370.00" y1="358.30" x2="510.00" y2="358.30" stroke="#111" stroke-width="1.5" stroke-linecap="butt"/>
<line x1="370.00" y1="358.30" x2="374.30" y2="358.30" stroke="#111" stroke-width="1.4" stroke-linecap="butt"/>
<text x="364.8" y="361.90000000000003" font-size="10.3" text-anchor="end" fill="#101010" stroke="#101010" stroke-width="0.22">0</text>
<line x1="370.00" y1="328.30" x2="374.30" y2="328.30" stroke="#111" stroke-width="1.4" stroke-linecap="butt"/>
<text x="364.8" y="331.90000000000003" font-size="10.3" text-anchor="end" fill="#101010" stroke="#101010" stroke-width="0.22">10</text>
<line x1="370.00" y1="298.30" x2="374.30" y2="298.30" stroke="#111" stroke-width="1.4" stroke-linecap="butt"/>
<text x="364.8" y="301.90000000000003" font-size="10.3" text-anchor="end" fill="#101010" stroke="#101010" stroke-width="0.22">20</text>
<line x1="370.00" y1="268.30" x2="374.30" y2="268.30" stroke="#111" stroke-width="1.4" stroke-linecap="butt"/>
<text x="364.8" y="271.90000000000003" font-size="10.3" text-anchor="end" fill="#101010" stroke="#101010" stroke-width="0.22">30</text>
<line x1="381.50" y1="358.30" x2="381.50" y2="362.90" stroke="#111" stroke-width="1.4" stroke-linecap="butt"/>
<line x1="405.90" y1="358.30" x2="405.90" y2="362.90" stroke="#111" stroke-width="1.4" stroke-linecap="butt"/>
<line x1="421.20" y1="358.30" x2="421.20" y2="362.90" stroke="#111" stroke-width="1.4" stroke-linecap="butt"/>
<line x1="445.60" y1="358.30" x2="445.60" y2="362.90" stroke="#111" stroke-width="1.4" stroke-linecap="butt"/>
<line x1="460.90" y1="358.30" x2="460.90" y2="362.90" stroke="#111" stroke-width="1.4" stroke-linecap="butt"/>
<line x1="485.40" y1="358.30" x2="485.40" y2="362.90" stroke="#111" stroke-width="1.4" stroke-linecap="butt"/>
<line x1="500.80" y1="358.30" x2="500.80" y2="362.90" stroke="#111" stroke-width="1.4" stroke-linecap="butt"/>
<text transform="translate(329.6 311.5) rotate(-90)" font-size="12" text-anchor="middle" textLength="63.5" lengthAdjust="spacingAndGlyphs" fill="#101010">Liver bleeding</text>
<text transform="translate(345.4 311) rotate(-90)" font-size="12" text-anchor="middle" textLength="91.3" lengthAdjust="spacingAndGlyphs" fill="#101010">(# of RBC × 10<tspan font-size="8.5" dy="-4.2">5</tspan><tspan dy="4.2">/µL)</tspan></text>
<line x1="405.90" y1="258.50" x2="421.20" y2="258.50" stroke="#111" stroke-width="1.4" stroke-linecap="butt"/>
<path d="M405.90 272.30V268.30H421.20V272.30" fill="none" stroke="#111" stroke-width="1.35"/>
<text x="413.54999999999995" y="267.8" font-size="8" text-anchor="middle" font-weight="bold" fill="#101010">**</text>
<text x="413.54999999999995" y="251.8" font-size="8.2" text-anchor="middle" textLength="9" lengthAdjust="spacingAndGlyphs" fill="#101010" stroke="#101010" stroke-width="0.22">3h</text>
<line x1="445.60" y1="258.50" x2="460.90" y2="258.50" stroke="#111" stroke-width="1.4" stroke-linecap="butt"/>
<path d="M445.60 272.30V268.30H460.90V272.30" fill="none" stroke="#111" stroke-width="1.35"/>
<text x="453.25" y="267.8" font-size="8" text-anchor="middle" font-weight="bold" fill="#101010">**</text>
<text x="453.25" y="251.8" font-size="8.2" text-anchor="middle" textLength="9" lengthAdjust="spacingAndGlyphs" fill="#101010" stroke="#101010" stroke-width="0.22">6h</text>
<line x1="485.40" y1="258.50" x2="500.80" y2="258.50" stroke="#111" stroke-width="1.4" stroke-linecap="butt"/>
<path d="M485.40 272.30V268.30H500.80V272.30" fill="none" stroke="#111" stroke-width="1.35"/>
<text x="493.1" y="267.8" font-size="8" text-anchor="middle" font-weight="bold" fill="#101010">**</text>
<text x="493.1" y="251.8" font-size="8.2" text-anchor="middle" textLength="12.5" lengthAdjust="spacingAndGlyphs" fill="#101010" stroke="#101010" stroke-width="0.22">12h</text>
<text transform="translate(385.2 368) rotate(-90)" font-size="10.2" text-anchor="end" textLength="28.7" lengthAdjust="spacingAndGlyphs" fill="#101010" stroke="#101010" stroke-width="0.22">DMSO</text>
<text transform="translate(409.59999999999997 368) rotate(-90)" font-size="10.2" text-anchor="end" textLength="20" lengthAdjust="spacingAndGlyphs" fill="#101010" stroke="#101010" stroke-width="0.22">THO</text>
<text transform="translate(423.9 368) rotate(-90)" font-size="10.2" text-anchor="end" textLength="52.4" lengthAdjust="spacingAndGlyphs" fill="#101010" stroke="#101010" stroke-width="0.22">Clopidogrel</text>
<text transform="translate(449.3 368) rotate(-90)" font-size="10.2" text-anchor="end" textLength="20" lengthAdjust="spacingAndGlyphs" fill="#101010" stroke="#101010" stroke-width="0.22">THO</text>
<text transform="translate(463.59999999999997 368) rotate(-90)" font-size="10.2" text-anchor="end" textLength="52.4" lengthAdjust="spacingAndGlyphs" fill="#101010" stroke="#101010" stroke-width="0.22">Clopidogrel</text>
<text transform="translate(489.09999999999997 368) rotate(-90)" font-size="10.2" text-anchor="end" textLength="20" lengthAdjust="spacingAndGlyphs" fill="#101010" stroke="#101010" stroke-width="0.22">THO</text>
<text transform="translate(503.5 368) rotate(-90)" font-size="10.2" text-anchor="end" textLength="52.4" lengthAdjust="spacingAndGlyphs" fill="#101010" stroke="#101010" stroke-width="0.22">Clopidogrel</text>
<text transform="translate(10.67 458.1) scale(0.95 1)" font-size="17.7" font-weight="bold" fill="#000">E</text>
<text x="101.6" y="474.2" font-size="8.4" text-anchor="middle" textLength="53.3" lengthAdjust="spacingAndGlyphs" fill="#101010" stroke="#101010" stroke-width="0.22">Brain bleeding</text>
<rect x="43.5" y="479.1" width="113.3" height="77.8" fill="#050505"/>
<rect x="49.3" y="480.5" width="28.1" height="21.2" fill="#131313"/><rect x="47.6" y="504" width="29.8" height="26" fill="#0d0d0d"/>
<g filter="url(#bl2)">
<g transform="translate(63.8 490.4)">
<path d="M-12.7 0.96 C-12.7 -6.72 -7.619999999999999 -9.6 -1.5239999999999998 -9.12 L0 -7.871999999999999 L1.5239999999999998 -9.12 C7.619999999999999 -9.6 12.7 -6.72 12.7 0.96 C12.7 6.912 7.874 9.6 2.032 9.216 L0 7.68 L-2.032 9.216 C-7.874 9.6 -12.7 6.912 -12.7 0.96Z" fill="url(#brain)"/>
<path d="M-6.35 2.4 C-5.715 -3.36 -1.27 -3.36 0 -0.96 C1.27 -3.36 5.715 -3.36 6.35 2.4" fill="none" stroke="#d8d0b8" stroke-width="1.0" opacity="0.3"/>
<path d="M0 -7.68 V0.96" stroke="#d8d0b8" stroke-width="0.9" opacity="0.4"/>
<ellipse cx="-3.556" cy="4.8" rx="2.54" ry="1.056" fill="#d5ccb4" opacity="0.55"/>
<ellipse cx="3.556" cy="4.8" rx="2.54" ry="1.056" fill="#d5ccb4" opacity="0.55"/>
<path d="M-1.27 -0.96 l0.5 3.36" stroke="#d58a86" stroke-width="1.0" opacity="0.55"/>
</g>
<g transform="translate(101.2 490.3)">
<path d="M-12.8 0.91 C-12.8 -6.369999999999999 -7.68 -9.1 -1.536 -8.645 L0 -7.461999999999999 L1.536 -8.645 C7.68 -9.1 12.8 -6.369999999999999 12.8 0.91 C12.8 6.552 7.936 9.1 2.048 8.735999999999999 L0 7.28 L-2.048 8.735999999999999 C-7.936 9.1 -12.8 6.552 -12.8 0.91Z" fill="url(#brain)"/>
<path d="M-6.4 2.275 C-5.760000000000001 -3.1849999999999996 -1.2800000000000002 -3.1849999999999996 0 -0.91 C1.2800000000000002 -3.1849999999999996 5.760000000000001 -3.1849999999999996 6.4 2.275" fill="none" stroke="#d8d0b8" stroke-width="1.0" opacity="0.3"/>
<path d="M0 -7.28 V0.91" stroke="#d8d0b8" stroke-width="0.9" opacity="0.4"/>
<ellipse cx="-3.5840000000000005" cy="4.55" rx="2.5600000000000005" ry="1.001" fill="#d5ccb4" opacity="0.55"/>
<ellipse cx="3.5840000000000005" cy="4.55" rx="2.5600000000000005" ry="1.001" fill="#d5ccb4" opacity="0.55"/>
</g>
<g transform="translate(139.7 490.4)">
<path d="M-12.3 0.9199999999999999 C-12.3 -6.4399999999999995 -7.38 -9.2 -1.476 -8.739999999999998 L0 -7.543999999999999 L1.476 -8.739999999999998 C7.38 -9.2 12.3 -6.4399999999999995 12.3 0.9199999999999999 C12.3 6.624 7.626 9.2 1.9680000000000002 8.831999999999999 L0 7.359999999999999 L-1.9680000000000002 8.831999999999999 C-7.626 9.2 -12.3 6.624 -12.3 0.9199999999999999Z" fill="url(#brainw)"/>
<path d="M-6.15 2.3 C-5.535 -3.2199999999999998 -1.2300000000000002 -3.2199999999999998 0 -0.9199999999999999 C1.2300000000000002 -3.2199999999999998 5.535 -3.2199999999999998 6.15 2.3" fill="none" stroke="#d8d0b8" stroke-width="1.0" opacity="0.3"/>
<path d="M0 -7.359999999999999 V0.9199999999999999" stroke="#d8d0b8" stroke-width="0.9" opacity="0.4"/>
<ellipse cx="-3.4440000000000004" cy="4.6" rx="2.4600000000000004" ry="1.012" fill="#d5ccb4" opacity="0.55"/>
<ellipse cx="3.4440000000000004" cy="4.6" rx="2.4600000000000004" ry="1.012" fill="#d5ccb4" opacity="0.55"/>
<path d="M0.24600000000000002 -7.819999999999999 l0.5 5.06" stroke="#a03a4e" stroke-width="1.2"/>
<path d="M-2.4600000000000004 -7.359999999999999 l0.2 2.76" stroke="#b86a74" stroke-width="0.8"/>
</g>
<g transform="translate(63.3 517.0)">
<path d="M-14.3 1.07 C-14.3 -7.489999999999999 -8.58 -10.7 -1.716 -10.165 L0 -8.774 L1.716 -10.165 C8.58 -10.7 14.3 -7.489999999999999 14.3 1.07 C14.3 7.703999999999999 8.866 10.7 2.2880000000000003 10.271999999999998 L0 8.56 L-2.2880000000000003 10.271999999999998 C-8.866 10.7 -14.3 7.703999999999999 -14.3 1.07Z" fill="url(#brain)"/>
<path d="M-7.15 2.675 C-6.4350000000000005 -3.7449999999999997 -1.4300000000000002 -3.7449999999999997 0 -1.07 C1.4300000000000002 -3.7449999999999997 6.4350000000000005 -3.7449999999999997 7.15 2.675" fill="none" stroke="#d8d0b8" stroke-width="1.0" opacity="0.3"/>
<path d="M0 -8.56 V1.07" stroke="#d8d0b8" stroke-width="0.9" opacity="0.4"/>
<ellipse cx="-4.0040000000000004" cy="5.35" rx="2.8600000000000003" ry="1.1769999999999998" fill="#d5ccb4" opacity="0.55"/>
<ellipse cx="4.0040000000000004" cy="5.35" rx="2.8600000000000003" ry="1.1769999999999998" fill="#d5ccb4" opacity="0.55"/>
</g>
<g transform="translate(102.0 517.3)">
<path d="M-14.9 1.05 C-14.9 -7.35 -8.94 -10.5 -1.788 -9.975 L0 -8.61 L1.788 -9.975 C8.94 -10.5 14.9 -7.35 14.9 1.05 C14.9 7.56 9.238 10.5 2.384 10.08 L0 8.4 L-2.384 10.08 C-9.238 10.5 -14.9 7.56 -14.9 1.05Z" fill="url(#brain)"/>
<path d="M-7.45 2.625 C-6.705 -3.675 -1.4900000000000002 -3.675 0 -1.05 C1.4900000000000002 -3.675 6.705 -3.675 7.45 2.625" fill="none" stroke="#d8d0b8" stroke-width="1.0" opacity="0.3"/>
<path d="M0 -8.4 V1.05" stroke="#d8d0b8" stroke-width="0.9" opacity="0.4"/>
<ellipse cx="-4.172000000000001" cy="5.25" rx="2.9800000000000004" ry="1.155" fill="#d5ccb4" opacity="0.55"/>
<ellipse cx="4.172000000000001" cy="5.25" rx="2.9800000000000004" ry="1.155" fill="#d5ccb4" opacity="0.55"/>
<path d="M-1.788 -5.25 l0.3 6.3" stroke="#dcb0aa" stroke-width="0.9" opacity="0.55"/>
</g>
<g transform="translate(140.0 517.0)">
<path d="M-13.7 1.08 C-13.7 -7.56 -8.219999999999999 -10.8 -1.644 -10.26 L0 -8.856 L1.644 -10.26 C8.219999999999999 -10.8 13.7 -7.56 13.7 1.08 C13.7 7.776 8.494 10.8 2.1919999999999997 10.368 L0 8.64 L-2.1919999999999997 10.368 C-8.494 10.8 -13.7 7.776 -13.7 1.08Z" fill="url(#brainw)"/>
<path d="M-6.85 2.7 C-6.165 -3.78 -1.37 -3.78 0 -1.08 C1.37 -3.78 6.165 -3.78 6.85 2.7" fill="none" stroke="#d8d0b8" stroke-width="1.0" opacity="0.3"/>
<path d="M0 -8.64 V1.08" stroke="#d8d0b8" stroke-width="0.9" opacity="0.4"/>
<ellipse cx="-3.8360000000000003" cy="5.4" rx="2.74" ry="1.1880000000000002" fill="#d5ccb4" opacity="0.55"/>
<ellipse cx="3.8360000000000003" cy="5.4" rx="2.74" ry="1.1880000000000002" fill="#d5ccb4" opacity="0.55"/>
<path d="M0.822 -9.936000000000002 l0.5 5.4" stroke="#6d0f28" stroke-width="2.6"/>
<path d="M1.37 -4.86 l0.5 4.86" stroke="#8a2038" stroke-width="1.7"/>
<path d="M-2.74 -8.64 l0.4 5.4" stroke="#a04058" stroke-width="1.1" opacity="0.8"/>
<path d="M2.74 -1.08 l1.0 9.72" stroke="#c9a0a0" stroke-width="1.6" opacity="0.6"/>
</g>
<g transform="translate(63.5 543.6)">
<path d="M-14.2 1.1 C-14.2 -7.699999999999999 -8.52 -11.0 -1.704 -10.45 L0 -9.02 L1.704 -10.45 C8.52 -11.0 14.2 -7.699999999999999 14.2 1.1 C14.2 7.92 8.804 11.0 2.272 10.559999999999999 L0 8.8 L-2.272 10.559999999999999 C-8.804 11.0 -14.2 7.92 -14.2 1.1Z" fill="url(#brain)"/>
<path d="M-7.1 2.75 C-6.39 -3.8499999999999996 -1.42 -3.8499999999999996 0 -1.1 C1.42 -3.8499999999999996 6.39 -3.8499999999999996 7.1 2.75" fill="none" stroke="#d8d0b8" stroke-width="1.0" opacity="0.3"/>
<path d="M0 -8.8 V1.1" stroke="#d8d0b8" stroke-width="0.9" opacity="0.4"/>
<ellipse cx="-3.976" cy="5.5" rx="2.84" ry="1.21" fill="#d5ccb4" opacity="0.55"/>
<ellipse cx="3.976" cy="5.5" rx="2.84" ry="1.21" fill="#d5ccb4" opacity="0.55"/>
</g>
<g transform="translate(102.0 544.7)">
<path d="M-15.3 1.05 C-15.3 -7.35 -9.18 -10.5 -1.836 -9.975 L0 -8.61 L1.836 -9.975 C9.18 -10.5 15.3 -7.35 15.3 1.05 C15.3 7.56 9.486 10.5 2.448 10.08 L0 8.4 L-2.448 10.08 C-9.486 10.5 -15.3 7.56 -15.3 1.05Z" fill="url(#brain)"/>
<path d="M-7.65 2.625 C-6.885000000000001 -3.675 -1.5300000000000002 -3.675 0 -1.05 C1.5300000000000002 -3.675 6.885000000000001 -3.675 7.65 2.625" fill="none" stroke="#d8d0b8" stroke-width="1.0" opacity="0.3"/>
<path d="M0 -8.4 V1.05" stroke="#d8d0b8" stroke-width="0.9" opacity="0.4"/>
<ellipse cx="-4.284000000000001" cy="5.25" rx="3.0600000000000005" ry="1.155" fill="#d5ccb4" opacity="0.55"/>
<ellipse cx="4.284000000000001" cy="5.25" rx="3.0600000000000005" ry="1.155" fill="#d5ccb4" opacity="0.55"/>
<path d="M3.0600000000000005 0.525 l0.6 5.25" stroke="#cf9a98" stroke-width="1.1" opacity="0.55"/>
</g>
<g transform="translate(140.0 544.0)">
<path d="M-14.4 1.04 C-14.4 -7.279999999999999 -8.64 -10.4 -1.728 -9.879999999999999 L0 -8.528 L1.728 -9.879999999999999 C8.64 -10.4 14.4 -7.279999999999999 14.4 1.04 C14.4 7.4879999999999995 8.928 10.4 2.3040000000000003 9.984 L0 8.32 L-2.3040000000000003 9.984 C-8.928 10.4 -14.4 7.4879999999999995 -14.4 1.04Z" fill="url(#brainw)"/>
<path d="M-7.2 2.6 C-6.48 -3.6399999999999997 -1.4400000000000002 -3.6399999999999997 0 -1.04 C1.4400000000000002 -3.6399999999999997 6.48 -3.6399999999999997 7.2 2.6" fill="none" stroke="#d8d0b8" stroke-width="1.0" opacity="0.3"/>
<path d="M0 -8.32 V1.04" stroke="#d8d0b8" stroke-width="0.9" opacity="0.4"/>
<ellipse cx="-4.032000000000001" cy="5.2" rx="2.8800000000000003" ry="1.1440000000000001" fill="#d5ccb4" opacity="0.55"/>
<ellipse cx="4.032000000000001" cy="5.2" rx="2.8800000000000003" ry="1.1440000000000001" fill="#d5ccb4" opacity="0.55"/>
</g>
</g>
<text x="63.9" y="567.8" font-size="8.4" text-anchor="middle" textLength="24.8" lengthAdjust="spacingAndGlyphs" fill="#101010" stroke="#101010" stroke-width="0.22">DMSO</text>
<text x="100" y="567.8" font-size="8.4" text-anchor="middle" textLength="17.2" lengthAdjust="spacingAndGlyphs" fill="#101010" stroke="#101010" stroke-width="0.22">THO</text>
<text x="138.1" y="567.8" font-size="8.4" text-anchor="middle" textLength="41.2" lengthAdjust="spacingAndGlyphs" fill="#101010" stroke="#101010" stroke-width="0.22">clopidogrel</text>
<text transform="translate(10.60 607.8) scale(1.0 1)" font-size="17.7" font-weight="bold" fill="#000">F</text>
<line x1="79.00" y1="700.20" x2="79.00" y2="711.60" stroke="#111" stroke-width="1.1" stroke-linecap="butt"/>
<line x1="72.75" y1="705.70" x2="85.25" y2="705.70" stroke="#111" stroke-width="1.4000000000000001" stroke-linecap="butt"/>
<line x1="75.75" y1="700.20" x2="82.25" y2="700.20" stroke="#111" stroke-width="1.1" stroke-linecap="butt"/>
<line x1="75.75" y1="711.60" x2="82.25" y2="711.60" stroke="#111" stroke-width="1.1" stroke-linecap="butt"/>
<line x1="107.90" y1="692.00" x2="107.90" y2="708.30" stroke="#111" stroke-width="1.1" stroke-linecap="butt"/>
<line x1="101.65" y1="700.50" x2="114.15" y2="700.50" stroke="#111" stroke-width="1.4000000000000001" stroke-linecap="butt"/>
<line x1="104.65" y1="692.00" x2="111.15" y2="692.00" stroke="#111" stroke-width="1.1" stroke-linecap="butt"/>
<line x1="104.65" y1="708.30" x2="111.15" y2="708.30" stroke="#111" stroke-width="1.1" stroke-linecap="butt"/>
<line x1="136.50" y1="651.10" x2="136.50" y2="704.40" stroke="#111" stroke-width="1.1" stroke-linecap="butt"/>
<line x1="130.25" y1="677.60" x2="142.75" y2="677.60" stroke="#111" stroke-width="1.4000000000000001" stroke-linecap="butt"/>
<line x1="133.25" y1="651.10" x2="139.75" y2="651.10" stroke="#111" stroke-width="1.1" stroke-linecap="butt"/>
<line x1="133.25" y1="704.40" x2="139.75" y2="704.40" stroke="#111" stroke-width="1.1" stroke-linecap="butt"/>
<circle cx="77.60" cy="697.90" r="1.05" fill="#A5112F"/>
<circle cx="80.80" cy="700.20" r="1.05" fill="#A5112F"/>
<circle cx="76.30" cy="703.80" r="1.05" fill="#A5112F"/>
<circle cx="81.80" cy="704.40" r="1.05" fill="#A5112F"/>
<circle cx="77.60" cy="707.00" r="1.05" fill="#A5112F"/>
<circle cx="80.20" cy="708.30" r="1.05" fill="#A5112F"/>
<circle cx="78.60" cy="711.00" r="1.05" fill="#A5112F"/>
<circle cx="80.80" cy="712.60" r="1.05" fill="#A5112F"/>
<circle cx="79.00" cy="705.60" r="1.05" fill="#A5112F"/>
<circle cx="108.00" cy="687.10" r="1.05" fill="#68B13B"/>
<circle cx="106.30" cy="692.00" r="1.05" fill="#68B13B"/>
<circle cx="109.60" cy="697.90" r="1.05" fill="#68B13B"/>
<circle cx="105.70" cy="701.20" r="1.05" fill="#68B13B"/>
<circle cx="110.30" cy="702.80" r="1.05" fill="#68B13B"/>
<circle cx="108.00" cy="706.00" r="1.05" fill="#68B13B"/>
<circle cx="106.30" cy="711.00" r="1.05" fill="#68B13B"/>
<circle cx="136.40" cy="639.00" r="1.05" fill="#1F3C7C"/>
<circle cx="136.40" cy="643.90" r="1.05" fill="#1F3C7C"/>
<circle cx="136.40" cy="659.60" r="1.05" fill="#1F3C7C"/>
<circle cx="136.40" cy="682.50" r="1.05" fill="#1F3C7C"/>
<circle cx="136.40" cy="687.10" r="1.05" fill="#1F3C7C"/>
<circle cx="136.40" cy="696.20" r="1.05" fill="#1F3C7C"/>
<circle cx="136.40" cy="702.80" r="1.05" fill="#1F3C7C"/>
<circle cx="136.40" cy="707.70" r="1.05" fill="#1F3C7C"/>
<line x1="65.50" y1="624.00" x2="65.50" y2="719.00" stroke="#111" stroke-width="1.5" stroke-linecap="butt"/>
<line x1="61.40" y1="714.50" x2="148.20" y2="714.50" stroke="#111" stroke-width="1.5" stroke-linecap="butt"/>
<line x1="61.40" y1="714.50" x2="65.50" y2="714.50" stroke="#111" stroke-width="1.4" stroke-linecap="butt"/>
<text x="56.8" y="717.9" font-size="10.2" text-anchor="end" fill="#101010" stroke="#101010" stroke-width="0.22">0</text>
<line x1="61.40" y1="697.24" x2="65.50" y2="697.24" stroke="#111" stroke-width="1.4" stroke-linecap="butt"/>
<text x="56.8" y="700.64" font-size="10.2" text-anchor="end" fill="#101010" stroke="#101010" stroke-width="0.22">2</text>
<line x1="61.40" y1="679.98" x2="65.50" y2="679.98" stroke="#111" stroke-width="1.4" stroke-linecap="butt"/>
<text x="56.8" y="683.38" font-size="10.2" text-anchor="end" fill="#101010" stroke="#101010" stroke-width="0.22">4</text>
<line x1="61.40" y1="662.72" x2="65.50" y2="662.72" stroke="#111" stroke-width="1.4" stroke-linecap="butt"/>
<text x="56.8" y="666.12" font-size="10.2" text-anchor="end" fill="#101010" stroke="#101010" stroke-width="0.22">6</text>
<line x1="61.40" y1="645.46" x2="65.50" y2="645.46" stroke="#111" stroke-width="1.4" stroke-linecap="butt"/>
<text x="56.8" y="648.86" font-size="10.2" text-anchor="end" fill="#101010" stroke="#101010" stroke-width="0.22">8</text>
<line x1="61.40" y1="628.20" x2="65.50" y2="628.20" stroke="#111" stroke-width="1.4" stroke-linecap="butt"/>
<text x="56.8" y="631.6" font-size="10.2" text-anchor="end" fill="#101010" stroke="#101010" stroke-width="0.22">10</text>
<line x1="79.00" y1="714.50" x2="79.00" y2="719.00" stroke="#111" stroke-width="1.4" stroke-linecap="butt"/>
<line x1="107.90" y1="714.50" x2="107.90" y2="719.00" stroke="#111" stroke-width="1.4" stroke-linecap="butt"/>
<line x1="136.50" y1="714.50" x2="136.50" y2="719.00" stroke="#111" stroke-width="1.4" stroke-linecap="butt"/>
<path d="M79.00 632.20V626.60H136.50V632.20" fill="none" stroke="#111" stroke-width="1.35"/>
<text x="108" y="626.3" font-size="8.5" text-anchor="middle" font-weight="bold" fill="#101010">**</text>
<text transform="translate(22 669.6) rotate(-90)" font-size="12" text-anchor="middle" textLength="66.4" lengthAdjust="spacingAndGlyphs" fill="#101010">Brain bleeding</text>
<text transform="translate(35.5 669.6) rotate(-90)" font-size="12" text-anchor="middle" textLength="103.6" lengthAdjust="spacingAndGlyphs" fill="#101010">(fold of red/white area)</text>
<text transform="translate(82.5 724.6) rotate(-90)" font-size="10" text-anchor="end" textLength="28.9" lengthAdjust="spacingAndGlyphs" fill="#101010" stroke="#101010" stroke-width="0.22">DMSO</text>
<text transform="translate(111.4 724.6) rotate(-90)" font-size="10" text-anchor="end" textLength="19.6" lengthAdjust="spacingAndGlyphs" fill="#101010" stroke="#101010" stroke-width="0.22">THO</text>
<text transform="translate(139.5 724.6) rotate(-90)" font-size="10" text-anchor="end" textLength="50.8" lengthAdjust="spacingAndGlyphs" fill="#101010" stroke="#101010" stroke-width="0.22">Clopidogrel</text>
<text transform="translate(182.34 458.2) scale(1.07 1)" font-size="17.7" font-weight="bold" fill="#000">G</text>
<text x="195.55" y="479.6" font-size="8.0" text-anchor="middle" textLength="23.9" lengthAdjust="spacingAndGlyphs" fill="#101010" stroke="#101010" stroke-width="0.22">DMSO</text>
<text x="223.9" y="479.6" font-size="8.0" text-anchor="middle" textLength="24.0" lengthAdjust="spacingAndGlyphs" fill="#101010" stroke="#101010" stroke-width="0.22">DMSO</text>
<text x="249.05" y="479.6" font-size="8.0" text-anchor="middle" textLength="15.5" lengthAdjust="spacingAndGlyphs" fill="#101010" stroke="#101010" stroke-width="0.22">THO</text>
<text x="274.45" y="474.0" font-size="8.0" text-anchor="middle" textLength="15.5" lengthAdjust="spacingAndGlyphs" fill="#101010" stroke="#101010" stroke-width="0.22">myr-</text>
<text x="274.2" y="483.9" font-size="8.0" text-anchor="middle" textLength="24.8" lengthAdjust="spacingAndGlyphs" fill="#101010" stroke="#101010" stroke-width="0.22">KF7scr</text>
<text x="299.5" y="474.0" font-size="8.0" text-anchor="middle" textLength="15.6" lengthAdjust="spacingAndGlyphs" fill="#101010" stroke="#101010" stroke-width="0.22">myr-</text>
<text x="299.55" y="483.9" font-size="8.0" text-anchor="middle" textLength="13.9" lengthAdjust="spacingAndGlyphs" fill="#101010" stroke="#101010" stroke-width="0.22">KF7</text>
<text x="328.0" y="479.9" font-size="8.0" text-anchor="middle" textLength="32" lengthAdjust="spacingAndGlyphs" fill="#101010" stroke="#101010" stroke-width="0.22">Integrilin</text>
<g filter="url(#bl)">
<rect x="183.1" y="487.5" width="158.0" height="36.1" fill="#050505"/>
<rect x="186.8" y="490.0" width="20.3" height="17.4" fill="#3a3a3a"/>
<rect x="189.4" y="490.0" width="3.0" height="17.4" fill="#4c4c4c"/>
<rect x="195.9" y="490.0" width="2.0" height="17.4" fill="#2a2a2a"/>
<rect x="201.0" y="490.0" width="3.2" height="17.4" fill="#505050"/>
<rect x="185.2" y="487.5" width="23.7" height="7" fill="url(#fade)"/>
<path d="M185.2 507.4 H208.9 V510.8 C208.9 516.2 202.7 520.3 197.1 520.3 C191.4 520.3 185.2 516.2 185.2 510.8Z" fill="url(#liqF)"/>
<path d="M185.5 507.7H208.6" stroke="#e2e2e2" stroke-width="1.1" opacity="0.8"/>
<rect x="213.6" y="490.0" width="19.2" height="17.4" fill="#303030"/>
<rect x="214.8" y="490.0" width="4.6" height="17.4" fill="#424242"/>
<rect x="219.7" y="490.0" width="5.2" height="17.4" fill="#242424"/>
<rect x="225.5" y="490.0" width="5.8" height="17.4" fill="#3e3e3e"/>
<rect x="227.4" y="490.0" width="1.3" height="17.4" fill="#303030"/>
<rect x="212.0" y="487.5" width="22.6" height="7" fill="url(#fade)"/>
<path d="M212.0 507.4 H234.6 V510.8 C234.6 516.2 228.7 520.3 223.3 520.3 C217.9 520.3 212.0 516.2 212.0 510.8Z" fill="url(#liq)"/>
<path d="M212.3 507.7H234.3" stroke="#e2e2e2" stroke-width="1.1" opacity="0.8"/>
<rect x="240.2" y="490.0" width="18.9" height="17.4" fill="#303030"/>
<rect x="241.3" y="490.0" width="4.5" height="17.4" fill="#424242"/>
<rect x="246.2" y="490.0" width="5.1" height="17.4" fill="#242424"/>
<rect x="251.9" y="490.0" width="5.7" height="17.4" fill="#3e3e3e"/>
<rect x="253.8" y="490.0" width="1.3" height="17.4" fill="#303030"/>
<rect x="238.6" y="487.5" width="22.3" height="7" fill="url(#fade)"/>
<path d="M238.6 507.4 H260.9 V510.8 C260.9 516.2 255.1 520.3 249.8 520.3 C244.4 520.3 238.6 516.2 238.6 510.8Z" fill="url(#liq)"/>
<path d="M238.9 507.7H260.6" stroke="#e2e2e2" stroke-width="1.1" opacity="0.8"/>
<rect x="266.4" y="490.0" width="18.2" height="17.4" fill="#303030"/>
<rect x="267.5" y="490.0" width="4.4" height="17.4" fill="#424242"/>
<rect x="272.2" y="490.0" width="4.9" height="17.4" fill="#242424"/>
<rect x="277.7" y="490.0" width="5.5" height="17.4" fill="#3e3e3e"/>
<rect x="279.5" y="490.0" width="1.3" height="17.4" fill="#303030"/>
<rect x="264.8" y="487.5" width="21.6" height="7" fill="url(#fade)"/>
<path d="M264.8 507.4 H286.4 V510.8 C286.4 516.2 280.8 520.3 275.6 520.3 C270.4 520.3 264.8 516.2 264.8 510.8Z" fill="url(#liq)"/>
<path d="M265.1 507.7H286.1" stroke="#e2e2e2" stroke-width="1.1" opacity="0.8"/>
<rect x="291.8" y="490.0" width="17.6" height="17.4" fill="#303030"/>
<rect x="292.9" y="490.0" width="4.2" height="17.4" fill="#424242"/>
<rect x="297.4" y="490.0" width="4.8" height="17.4" fill="#242424"/>
<rect x="302.7" y="490.0" width="5.3" height="17.4" fill="#3e3e3e"/>
<rect x="304.5" y="490.0" width="1.2" height="17.4" fill="#303030"/>
<rect x="290.2" y="487.5" width="21.0" height="7" fill="url(#fade)"/>
<path d="M290.2 507.4 H311.2 V510.8 C311.2 516.2 305.7 520.3 300.7 520.3 C295.7 520.3 290.2 516.2 290.2 510.8Z" fill="url(#liq)"/>
<path d="M290.5 507.7H310.9" stroke="#e2e2e2" stroke-width="1.1" opacity="0.8"/>
<rect x="316.8" y="490.0" width="19.4" height="17.4" fill="#3a3a3a"/>
<rect x="319.2" y="490.0" width="3.0" height="17.4" fill="#4c4c4c"/>
<rect x="325.5" y="490.0" width="2.0" height="17.4" fill="#2a2a2a"/>
<rect x="330.3" y="490.0" width="3.2" height="17.4" fill="#505050"/>
<rect x="315.2" y="487.5" width="22.8" height="7" fill="url(#fade)"/>
<path d="M315.2 507.4 H338.0 V510.8 C338.0 516.2 332.1 520.3 326.6 520.3 C321.1 520.3 315.2 516.2 315.2 510.8Z" fill="url(#liq)"/>
<path d="M315.5 507.7H337.7" stroke="#e2e2e2" stroke-width="1.1" opacity="0.8"/>
<rect x="183.1" y="526.2" width="158.0" height="33.7" fill="#050505"/>
<rect x="186.8" y="528.7" width="20.3" height="14.5" fill="#3a3a3a"/>
<rect x="189.4" y="528.7" width="3.0" height="14.5" fill="#4c4c4c"/>
<rect x="195.9" y="528.7" width="2.0" height="14.5" fill="#2a2a2a"/>
<rect x="201.0" y="528.7" width="3.2" height="14.5" fill="#505050"/>
<rect x="185.2" y="526.2" width="23.7" height="7" fill="url(#fade)"/>
<path d="M185.2 543.2 H208.9 V546.7 C208.9 552.4 202.7 556.7 197.1 556.7 C191.4 556.7 185.2 552.4 185.2 546.7Z" fill="url(#liqF)"/>
<path d="M185.5 543.5H208.6" stroke="#e2e2e2" stroke-width="1.1" opacity="0.8"/>
<rect x="213.6" y="528.7" width="19.2" height="14.5" fill="#2e2e2e"/>
<rect x="214.8" y="528.7" width="4.6" height="14.5" fill="#424242"/>
<rect x="219.7" y="528.7" width="5.2" height="14.5" fill="#242424"/>
<rect x="225.5" y="528.7" width="5.8" height="14.5" fill="#3e3e3e"/>
<rect x="227.4" y="528.7" width="1.3" height="14.5" fill="#303030"/>
<rect x="212.0" y="526.2" width="22.6" height="7" fill="url(#fade)"/>
<path d="M212.0 543.2 H234.6 V546.7 C234.6 552.4 228.7 556.7 223.3 556.7 C217.9 556.7 212.0 552.4 212.0 546.7Z" fill="url(#liq)"/>
<path d="M212.3 543.5H234.3" stroke="#e2e2e2" stroke-width="1.1" opacity="0.8"/>
<rect x="240.2" y="528.7" width="18.9" height="14.5" fill="#2e2e2e"/>
<rect x="241.3" y="528.7" width="4.5" height="14.5" fill="#424242"/>
<rect x="246.2" y="528.7" width="5.1" height="14.5" fill="#242424"/>
<rect x="251.9" y="528.7" width="5.7" height="14.5" fill="#3e3e3e"/>
<rect x="253.8" y="528.7" width="1.3" height="14.5" fill="#303030"/>
<rect x="238.6" y="526.2" width="22.3" height="7" fill="url(#fade)"/>
<path d="M238.6 543.2 H260.9 V546.7 C260.9 552.4 255.1 556.7 249.8 556.7 C244.4 556.7 238.6 552.4 238.6 546.7Z" fill="url(#liq)"/>
<path d="M238.9 543.5H260.6" stroke="#e2e2e2" stroke-width="1.1" opacity="0.8"/>
<rect x="266.4" y="528.7" width="18.2" height="14.5" fill="#2e2e2e"/>
<rect x="267.5" y="528.7" width="4.4" height="14.5" fill="#424242"/>
<rect x="272.2" y="528.7" width="4.9" height="14.5" fill="#242424"/>
<rect x="277.7" y="528.7" width="5.5" height="14.5" fill="#3e3e3e"/>
<rect x="279.5" y="528.7" width="1.3" height="14.5" fill="#303030"/>
<rect x="264.8" y="526.2" width="21.6" height="7" fill="url(#fade)"/>
<path d="M264.8 543.2 H286.4 V546.7 C286.4 552.4 280.8 556.7 275.6 556.7 C270.4 556.7 264.8 552.4 264.8 546.7Z" fill="url(#liq)"/>
<path d="M265.1 543.5H286.1" stroke="#e2e2e2" stroke-width="1.1" opacity="0.8"/>
<rect x="291.8" y="528.7" width="17.6" height="14.5" fill="#2e2e2e"/>
<rect x="292.9" y="528.7" width="4.2" height="14.5" fill="#424242"/>
<rect x="297.4" y="528.7" width="4.8" height="14.5" fill="#242424"/>
<rect x="302.7" y="528.7" width="5.3" height="14.5" fill="#3e3e3e"/>
<rect x="304.5" y="528.7" width="1.2" height="14.5" fill="#303030"/>
<rect x="290.2" y="526.2" width="21.0" height="7" fill="url(#fade)"/>
<path d="M290.2 543.2 H311.2 V546.7 C311.2 552.4 305.7 556.7 300.7 556.7 C295.7 556.7 290.2 552.4 290.2 546.7Z" fill="url(#liq)"/>
<path d="M290.5 543.5H310.9" stroke="#e2e2e2" stroke-width="1.1" opacity="0.8"/>
<rect x="316.8" y="528.7" width="19.4" height="14.5" fill="#3a3a3a"/>
<rect x="319.2" y="528.7" width="3.0" height="14.5" fill="#4c4c4c"/>
<rect x="325.5" y="528.7" width="2.0" height="14.5" fill="#2a2a2a"/>
<rect x="330.3" y="528.7" width="3.2" height="14.5" fill="#505050"/>
<rect x="315.2" y="526.2" width="22.8" height="7" fill="url(#fade)"/>
<path d="M315.2 543.2 H338.0 V546.7 C338.0 552.4 332.1 556.7 326.6 556.7 C321.1 556.7 315.2 552.4 315.2 546.7Z" fill="url(#liqF)"/>
<path d="M315.5 543.5H337.7" stroke="#e2e2e2" stroke-width="1.1" opacity="0.8"/>
<rect x="183.1" y="562.1" width="158.0" height="34.3" fill="#050505"/>
<rect x="186.8" y="564.6" width="20.3" height="14.1" fill="#3a3a3a"/>
<rect x="189.4" y="564.6" width="3.0" height="14.1" fill="#4c4c4c"/>
<rect x="195.9" y="564.6" width="2.0" height="14.1" fill="#2a2a2a"/>
<rect x="201.0" y="564.6" width="3.2" height="14.1" fill="#505050"/>
<rect x="185.2" y="562.1" width="23.7" height="7" fill="url(#fade)"/>
<path d="M185.2 578.7 H208.9 V582.0 C208.9 587.4 202.7 591.5 197.1 591.5 C191.4 591.5 185.2 587.4 185.2 582.0Z" fill="url(#liqF)"/>
<path d="M185.5 579.0H208.6" stroke="#e2e2e2" stroke-width="1.1" opacity="0.8"/>
<rect x="213.6" y="564.6" width="19.2" height="14.1" fill="#242424"/>
<rect x="214.8" y="564.6" width="4.6" height="14.1" fill="#424242"/>
<rect x="219.7" y="564.6" width="5.2" height="14.1" fill="#242424"/>
<rect x="225.5" y="564.6" width="5.8" height="14.1" fill="#3e3e3e"/>
<rect x="227.4" y="564.6" width="1.3" height="14.1" fill="#303030"/>
<rect x="212.0" y="562.1" width="22.6" height="7" fill="url(#fade)"/>
<path d="M212.0 578.7 H234.6 V582.0 C234.6 587.4 228.7 591.5 223.3 591.5 C217.9 591.5 212.0 587.4 212.0 582.0Z" fill="url(#liq)"/>
<path d="M212.3 579.0H234.3" stroke="#e2e2e2" stroke-width="1.1" opacity="0.8"/>
<rect x="240.2" y="564.6" width="18.9" height="14.1" fill="#242424"/>
<rect x="241.3" y="564.6" width="4.5" height="14.1" fill="#424242"/>
<rect x="246.2" y="564.6" width="5.1" height="14.1" fill="#242424"/>
<rect x="251.9" y="564.6" width="5.7" height="14.1" fill="#3e3e3e"/>
<rect x="253.8" y="564.6" width="1.3" height="14.1" fill="#303030"/>
<rect x="238.6" y="562.1" width="22.3" height="7" fill="url(#fade)"/>
<path d="M238.6 578.7 H260.9 V582.0 C260.9 587.4 255.1 591.5 249.8 591.5 C244.4 591.5 238.6 587.4 238.6 582.0Z" fill="#565656" stroke="#a8a8a8" stroke-width="0.8"/>
<path d="M239.7 579.3 H258.4 V582.4 C258.4 586.9 252.8 587.7 249.1 587.7 C245.3 587.7 239.7 586.9 239.7 582.4Z" fill="#d2d2d2"/>
<path d="M238.9 579.0H260.6" stroke="#e2e2e2" stroke-width="1.1" opacity="0.8"/>
<rect x="266.4" y="564.6" width="18.2" height="14.1" fill="#242424"/>
<rect x="267.5" y="564.6" width="4.4" height="14.1" fill="#424242"/>
<rect x="272.2" y="564.6" width="4.9" height="14.1" fill="#242424"/>
<rect x="277.7" y="564.6" width="5.5" height="14.1" fill="#3e3e3e"/>
<rect x="279.5" y="564.6" width="1.3" height="14.1" fill="#303030"/>
<rect x="264.8" y="562.1" width="21.6" height="7" fill="url(#fade)"/>
<path d="M264.8 578.7 H286.4 V582.0 C286.4 587.4 280.8 591.5 275.6 591.5 C270.4 591.5 264.8 587.4 264.8 582.0Z" fill="url(#liq)"/>
<path d="M265.1 579.0H286.1" stroke="#e2e2e2" stroke-width="1.1" opacity="0.8"/>
<rect x="291.8" y="564.6" width="17.6" height="14.1" fill="#242424"/>
<rect x="292.9" y="564.6" width="4.2" height="14.1" fill="#424242"/>
<rect x="297.4" y="564.6" width="4.8" height="14.1" fill="#242424"/>
<rect x="302.7" y="564.6" width="5.3" height="14.1" fill="#3e3e3e"/>
<rect x="304.5" y="564.6" width="1.2" height="14.1" fill="#303030"/>
<rect x="290.2" y="562.1" width="21.0" height="7" fill="url(#fade)"/>
<path d="M290.2 578.7 H311.2 V582.0 C311.2 587.4 305.7 591.5 300.7 591.5 C295.7 591.5 290.2 587.4 290.2 582.0Z" fill="#565656" stroke="#a8a8a8" stroke-width="0.8"/>
<path d="M291.7 579.3 H309.7 V581.9 C309.7 585.9 304.3 586.7 300.7 586.7 C297.1 586.7 291.7 585.9 291.7 581.9Z" fill="#d2d2d2"/>
<path d="M290.5 579.0H310.9" stroke="#e2e2e2" stroke-width="1.1" opacity="0.8"/>
<rect x="316.8" y="564.6" width="19.4" height="14.1" fill="#3a3a3a"/>
<rect x="319.2" y="564.6" width="3.0" height="14.1" fill="#4c4c4c"/>
<rect x="325.5" y="564.6" width="2.0" height="14.1" fill="#2a2a2a"/>
<rect x="330.3" y="564.6" width="3.2" height="14.1" fill="#505050"/>
<rect x="315.2" y="562.1" width="22.8" height="7" fill="url(#fade)"/>
<path d="M315.2 578.7 H338.0 V582.0 C338.0 587.4 332.1 591.5 326.6 591.5 C321.1 591.5 315.2 587.4 315.2 582.0Z" fill="url(#liq)"/>
<path d="M315.5 579.0H337.7" stroke="#e2e2e2" stroke-width="1.1" opacity="0.8"/>
<rect x="183.1" y="598.9" width="158.0" height="36.6" fill="#050505"/>
<rect x="186.8" y="599.7" width="20.3" height="16.5" fill="#333"/>
<rect x="189.4" y="599.7" width="3.0" height="16.5" fill="#4c4c4c"/>
<rect x="195.9" y="599.7" width="2.0" height="16.5" fill="#2a2a2a"/>
<rect x="201.0" y="599.7" width="3.2" height="16.5" fill="#505050"/>
<path d="M185.2 616.2 H208.9 V619.7 C208.9 625.2 202.7 629.5 197.1 629.5 C191.4 629.5 185.2 625.2 185.2 619.7Z" fill="url(#liqF)"/>
<path d="M185.5 616.5H208.6" stroke="#e2e2e2" stroke-width="1.1" opacity="0.8"/>
<rect x="213.6" y="599.7" width="19.2" height="16.5" fill="#1e1e1e"/>
<rect x="214.8" y="599.7" width="4.6" height="16.5" fill="#525252"/>
<rect x="219.7" y="599.7" width="5.2" height="16.5" fill="#1a1a1a"/>
<rect x="225.5" y="599.7" width="5.8" height="16.5" fill="#4e4e4e"/>
<rect x="227.4" y="599.7" width="1.3" height="16.5" fill="#3a3a3a"/>
<path d="M212.0 616.2 H234.6 V619.7 C234.6 625.2 228.7 629.5 223.3 629.5 C217.9 629.5 212.0 625.2 212.0 619.7Z" fill="#909090"/>
<path d="M212.8 617.7 L219.0 618.7 L229.6 627.3 L217.0 626.7 L212.8 622.2Z" fill="#5a5a5a" opacity="0.85"/>
<path d="M212.3 616.5H234.3" stroke="#e2e2e2" stroke-width="1.1" opacity="0.8"/>
<rect x="240.2" y="599.7" width="18.9" height="16.5" fill="#1e1e1e"/>
<rect x="241.3" y="599.7" width="4.5" height="16.5" fill="#525252"/>
<rect x="246.2" y="599.7" width="5.1" height="16.5" fill="#1a1a1a"/>
<rect x="251.9" y="599.7" width="5.7" height="16.5" fill="#4e4e4e"/>
<rect x="253.8" y="599.7" width="1.3" height="16.5" fill="#3a3a3a"/>
<path d="M238.6 616.2 H260.9 V619.7 C260.9 625.2 255.1 629.5 249.8 629.5 C244.4 629.5 238.6 625.2 238.6 619.7Z" fill="url(#liqd)" stroke="#999" stroke-width="0.9"/>
<ellipse cx="249.3" cy="619.1" rx="6.0" ry="2.7" fill="#fff"/>
<path d="M238.9 616.5H260.6" stroke="#e2e2e2" stroke-width="1.1" opacity="0.8"/>
<rect x="266.4" y="599.7" width="18.2" height="16.5" fill="#1e1e1e"/>
<rect x="267.5" y="599.7" width="4.4" height="16.5" fill="#525252"/>
<rect x="272.2" y="599.7" width="4.9" height="16.5" fill="#1a1a1a"/>
<rect x="277.7" y="599.7" width="5.5" height="16.5" fill="#4e4e4e"/>
<rect x="279.5" y="599.7" width="1.3" height="16.5" fill="#3a3a3a"/>
<path d="M264.8 616.2 H286.4 V619.7 C286.4 625.2 280.8 629.5 275.6 629.5 C270.4 629.5 264.8 625.2 264.8 619.7Z" fill="#909090"/>
<path d="M265.6 617.7 L271.8 618.7 L281.4 627.3 L269.8 626.7 L265.6 622.2Z" fill="#5a5a5a" opacity="0.85"/>
<path d="M265.1 616.5H286.1" stroke="#e2e2e2" stroke-width="1.1" opacity="0.8"/>
<rect x="291.8" y="599.7" width="17.6" height="16.5" fill="#1e1e1e"/>
<rect x="292.9" y="599.7" width="4.2" height="16.5" fill="#525252"/>
<rect x="297.4" y="599.7" width="4.8" height="16.5" fill="#1a1a1a"/>
<rect x="302.7" y="599.7" width="5.3" height="16.5" fill="#4e4e4e"/>
<rect x="304.5" y="599.7" width="1.2" height="16.5" fill="#3a3a3a"/>
<path d="M290.2 616.2 H311.2 V619.7 C311.2 625.2 305.7 629.5 300.7 629.5 C295.7 629.5 290.2 625.2 290.2 619.7Z" fill="url(#liqd)" stroke="#999" stroke-width="0.9"/>
<ellipse cx="298.2" cy="619.8" rx="4.8" ry="2.3" fill="#fff"/>
<path d="M290.5 616.5H310.9" stroke="#e2e2e2" stroke-width="1.1" opacity="0.8"/>
<rect x="316.8" y="599.7" width="19.4" height="16.5" fill="#333"/>
<rect x="319.2" y="599.7" width="3.0" height="16.5" fill="#4c4c4c"/>
<rect x="325.5" y="599.7" width="2.0" height="16.5" fill="#2a2a2a"/>
<rect x="330.3" y="599.7" width="3.2" height="16.5" fill="#505050"/>
<path d="M315.2 616.2 H338.0 V619.7 C338.0 625.2 332.1 629.5 326.6 629.5 C321.1 629.5 315.2 625.2 315.2 619.7Z" fill="url(#liq)"/>
<path d="M315.5 616.5H337.7" stroke="#e2e2e2" stroke-width="1.1" opacity="0.8"/>
<rect x="183.1" y="637.8" width="158.0" height="33.6" fill="#050505"/>
<rect x="186.8" y="638.6" width="20.3" height="14.9" fill="#333"/>
<rect x="189.4" y="638.6" width="3.0" height="14.9" fill="#4c4c4c"/>
<rect x="195.9" y="638.6" width="2.0" height="14.9" fill="#2a2a2a"/>
<rect x="201.0" y="638.6" width="3.2" height="14.9" fill="#505050"/>
<path d="M185.2 653.5 H208.9 V656.7 C208.9 661.9 202.7 665.9 197.1 665.9 C191.4 665.9 185.2 661.9 185.2 656.7Z" fill="url(#liqF)"/>
<path d="M185.5 653.8H208.6" stroke="#e2e2e2" stroke-width="1.1" opacity="0.8"/>
<rect x="213.6" y="638.6" width="19.2" height="14.9" fill="#202020"/>
<rect x="214.8" y="638.6" width="4.6" height="14.9" fill="#525252"/>
<rect x="219.7" y="638.6" width="5.2" height="14.9" fill="#1a1a1a"/>
<rect x="225.5" y="638.6" width="5.8" height="14.9" fill="#4e4e4e"/>
<rect x="227.4" y="638.6" width="1.3" height="14.9" fill="#3a3a3a"/>
<path d="M212.0 653.5 H234.6 V656.7 C234.6 661.9 228.7 665.9 223.3 665.9 C217.9 665.9 212.0 661.9 212.0 656.7Z" fill="url(#liqd)" stroke="#999" stroke-width="0.9"/>
<ellipse cx="221.5" cy="657.7" rx="7.5" ry="3.5" fill="#e0e0e0"/>
<path d="M212.3 653.8H234.3" stroke="#e2e2e2" stroke-width="1.1" opacity="0.8"/>
<rect x="240.2" y="638.6" width="18.9" height="14.9" fill="#202020"/>
<rect x="241.3" y="638.6" width="4.5" height="14.9" fill="#525252"/>
<rect x="246.2" y="638.6" width="5.1" height="14.9" fill="#1a1a1a"/>
<rect x="251.9" y="638.6" width="5.7" height="14.9" fill="#4e4e4e"/>
<rect x="253.8" y="638.6" width="1.3" height="14.9" fill="#3a3a3a"/>
<path d="M238.6 653.5 H260.9 V656.7 C260.9 661.9 255.1 665.9 249.8 665.9 C244.4 665.9 238.6 661.9 238.6 656.7Z" fill="url(#liqd)" stroke="#999" stroke-width="0.9"/>
<ellipse cx="248.4" cy="656.4" rx="4.8" ry="2.2" fill="#fff"/>
<path d="M238.9 653.8H260.6" stroke="#e2e2e2" stroke-width="1.1" opacity="0.8"/>
<rect x="266.4" y="638.6" width="18.2" height="14.9" fill="#202020"/>
<rect x="267.5" y="638.6" width="4.4" height="14.9" fill="#525252"/>
<rect x="272.2" y="638.6" width="4.9" height="14.9" fill="#1a1a1a"/>
<rect x="277.7" y="638.6" width="5.5" height="14.9" fill="#4e4e4e"/>
<rect x="279.5" y="638.6" width="1.3" height="14.9" fill="#3a3a3a"/>
<path d="M264.8 653.5 H286.4 V656.7 C286.4 661.9 280.8 665.9 275.6 665.9 C270.4 665.9 264.8 661.9 264.8 656.7Z" fill="url(#liqd)" stroke="#999" stroke-width="0.9"/>
<ellipse cx="276.7" cy="656.9" rx="5.5" ry="2.4" fill="#fff"/>
<path d="M265.1 653.8H286.1" stroke="#e2e2e2" stroke-width="1.1" opacity="0.8"/>
<rect x="291.8" y="638.6" width="17.6" height="14.9" fill="#202020"/>
<rect x="292.9" y="638.6" width="4.2" height="14.9" fill="#525252"/>
<rect x="297.4" y="638.6" width="4.8" height="14.9" fill="#1a1a1a"/>
<rect x="302.7" y="638.6" width="5.3" height="14.9" fill="#4e4e4e"/>
<rect x="304.5" y="638.6" width="1.2" height="14.9" fill="#3a3a3a"/>
<path d="M290.2 653.5 H311.2 V656.7 C311.2 661.9 305.7 665.9 300.7 665.9 C295.7 665.9 290.2 661.9 290.2 656.7Z" fill="url(#liqd)" stroke="#999" stroke-width="0.9"/>
<ellipse cx="298.2" cy="656.5" rx="4.3" ry="2.0" fill="#fff"/>
<path d="M290.5 653.8H310.9" stroke="#e2e2e2" stroke-width="1.1" opacity="0.8"/>
<rect x="316.8" y="638.6" width="19.4" height="14.9" fill="#333"/>
<rect x="319.2" y="638.6" width="3.0" height="14.9" fill="#4c4c4c"/>
<rect x="325.5" y="638.6" width="2.0" height="14.9" fill="#2a2a2a"/>
<rect x="330.3" y="638.6" width="3.2" height="14.9" fill="#505050"/>
<path d="M315.2 653.5 H338.0 V656.7 C338.0 661.9 332.1 665.9 326.6 665.9 C321.1 665.9 315.2 661.9 315.2 656.7Z" fill="url(#liq)"/>
<path d="M315.5 653.8H337.7" stroke="#e2e2e2" stroke-width="1.1" opacity="0.8"/>
<rect x="183.1" y="673.9" width="158.0" height="39.9" fill="#050505"/>
<rect x="186.8" y="674.7" width="20.3" height="16.1" fill="#333"/>
<rect x="189.4" y="674.7" width="3.0" height="16.1" fill="#4c4c4c"/>
<rect x="195.9" y="674.7" width="2.0" height="16.1" fill="#2a2a2a"/>
<rect x="201.0" y="674.7" width="3.2" height="16.1" fill="#505050"/>
<path d="M185.2 690.8 H208.9 V694.4 C208.9 700.2 202.7 704.6 197.1 704.6 C191.4 704.6 185.2 700.2 185.2 694.4Z" fill="url(#liqF)"/>
<path d="M185.5 691.1H208.6" stroke="#e2e2e2" stroke-width="1.1" opacity="0.8"/>
<rect x="213.6" y="674.7" width="19.2" height="16.1" fill="#1e1e1e"/>
<rect x="214.8" y="674.7" width="4.6" height="16.1" fill="#525252"/>
<rect x="219.7" y="674.7" width="5.2" height="16.1" fill="#1a1a1a"/>
<rect x="225.5" y="674.7" width="5.8" height="16.1" fill="#4e4e4e"/>
<rect x="227.4" y="674.7" width="1.3" height="16.1" fill="#3a3a3a"/>
<path d="M212.0 690.8 H234.6 V694.4 C234.6 700.2 228.7 704.6 223.3 704.6 C217.9 704.6 212.0 700.2 212.0 694.4Z" fill="url(#liqd)" stroke="#999" stroke-width="0.9"/>
<ellipse cx="221.5" cy="694.7" rx="5.4" ry="2.7" fill="#fff"/>
<path d="M212.3 691.1H234.3" stroke="#e2e2e2" stroke-width="1.1" opacity="0.8"/>
<rect x="240.2" y="674.7" width="18.9" height="16.1" fill="#1e1e1e"/>
<rect x="241.3" y="674.7" width="4.5" height="16.1" fill="#525252"/>
<rect x="246.2" y="674.7" width="5.1" height="16.1" fill="#1a1a1a"/>
<rect x="251.9" y="674.7" width="5.7" height="16.1" fill="#4e4e4e"/>
<rect x="253.8" y="674.7" width="1.3" height="16.1" fill="#3a3a3a"/>
<path d="M238.6 690.8 H260.9 V694.4 C260.9 700.2 255.1 704.6 249.8 704.6 C244.4 704.6 238.6 700.2 238.6 694.4Z" fill="url(#liqd)" stroke="#999" stroke-width="0.9"/>
<ellipse cx="247.5" cy="693.2" rx="4.6" ry="2.0" fill="#fff"/>
<path d="M238.9 691.1H260.6" stroke="#e2e2e2" stroke-width="1.1" opacity="0.8"/>
<rect x="266.4" y="674.7" width="18.2" height="16.1" fill="#1e1e1e"/>
<rect x="267.5" y="674.7" width="4.4" height="16.1" fill="#525252"/>
<rect x="272.2" y="674.7" width="4.9" height="16.1" fill="#1a1a1a"/>
<rect x="277.7" y="674.7" width="5.5" height="16.1" fill="#4e4e4e"/>
<rect x="279.5" y="674.7" width="1.3" height="16.1" fill="#3a3a3a"/>
<path d="M264.8 690.8 H286.4 V694.4 C286.4 700.2 280.8 704.6 275.6 704.6 C270.4 704.6 264.8 700.2 264.8 694.4Z" fill="url(#liqd)" stroke="#999" stroke-width="0.9"/>
<ellipse cx="276.7" cy="694.6" rx="5.0" ry="2.5" fill="#fff"/>
<path d="M265.1 691.1H286.1" stroke="#e2e2e2" stroke-width="1.1" opacity="0.8"/>
<rect x="291.8" y="674.7" width="17.6" height="16.1" fill="#1e1e1e"/>
<rect x="292.9" y="674.7" width="4.2" height="16.1" fill="#525252"/>
<rect x="297.4" y="674.7" width="4.8" height="16.1" fill="#1a1a1a"/>
<rect x="302.7" y="674.7" width="5.3" height="16.1" fill="#4e4e4e"/>
<rect x="304.5" y="674.7" width="1.2" height="16.1" fill="#3a3a3a"/>
<path d="M290.2 690.8 H311.2 V694.4 C311.2 700.2 305.7 704.6 300.7 704.6 C295.7 704.6 290.2 700.2 290.2 694.4Z" fill="url(#liqd)" stroke="#999" stroke-width="0.9"/>
<ellipse cx="301.1" cy="694.4" rx="2.5" ry="2.4" fill="#fff"/>
<path d="M290.5 691.1H310.9" stroke="#e2e2e2" stroke-width="1.1" opacity="0.8"/>
<rect x="316.8" y="674.7" width="19.4" height="16.1" fill="#333"/>
<rect x="319.2" y="674.7" width="3.0" height="16.1" fill="#4c4c4c"/>
<rect x="325.5" y="674.7" width="2.0" height="16.1" fill="#2a2a2a"/>
<rect x="330.3" y="674.7" width="3.2" height="16.1" fill="#505050"/>
<path d="M315.2 690.8 H338.0 V694.4 C338.0 700.2 332.1 704.6 326.6 704.6 C321.1 704.6 315.2 700.2 315.2 694.4Z" fill="url(#liq)"/>
<path d="M315.5 691.1H337.7" stroke="#e2e2e2" stroke-width="1.1" opacity="0.8"/>
</g>
<text x="184.0" y="496.5" font-size="9.3" textLength="24.6" lengthAdjust="spacingAndGlyphs" font-weight="bold" fill="#fff">0 min</text>
<text x="184.0" y="534.8000000000001" font-size="9.3" textLength="30.0" lengthAdjust="spacingAndGlyphs" font-weight="bold" fill="#fff">10 min</text>
<text x="184.0" y="570.7" font-size="9.3" textLength="30.0" lengthAdjust="spacingAndGlyphs" font-weight="bold" fill="#fff">20 min</text>
<text x="184.0" y="607.5" font-size="9.3" textLength="30.0" lengthAdjust="spacingAndGlyphs" font-weight="bold" fill="#fff">30 min</text>
<text x="184.0" y="646.4" font-size="9.3" textLength="30.0" lengthAdjust="spacingAndGlyphs" font-weight="bold" fill="#fff">40 min</text>
<text x="184.0" y="682.5" font-size="9.3" textLength="30.0" lengthAdjust="spacingAndGlyphs" font-weight="bold" fill="#fff">50 min</text>
<text transform="translate(367.77 458.7) scale(1.1 1)" font-size="17.7" font-weight="bold" fill="#000">H</text>
<line x1="406.80" y1="476.00" x2="417.80" y2="476.00" stroke="#A5112F" stroke-width="1.2" stroke-linecap="butt"/>
<circle cx="412.30" cy="476.00" r="1.9" fill="#fff" stroke="#A5112F" stroke-width="1.1"/>
<text x="423.0" y="478.9" font-size="8.2" textLength="69.3" lengthAdjust="spacingAndGlyphs" fill="#101010" stroke="#101010" stroke-width="0.22">DMSO Thrombin –</text>
<line x1="406.80" y1="490.05" x2="417.80" y2="490.05" stroke="#A5112F" stroke-width="1.2" stroke-linecap="butt"/>
<circle cx="412.30" cy="490.05" r="2.0" fill="#A5112F"/>
<text x="423.0" y="492.95" font-size="8.2" textLength="69.3" lengthAdjust="spacingAndGlyphs" fill="#101010" stroke="#101010" stroke-width="0.22">DMSO Thrombin +</text>
<line x1="406.80" y1="504.10" x2="417.80" y2="504.10" stroke="#68B13B" stroke-width="1.2" stroke-linecap="butt"/>
<circle cx="412.30" cy="504.10" r="2.0" fill="#68B13B"/>
<text x="423.0" y="507.0" font-size="8.2" textLength="62" lengthAdjust="spacingAndGlyphs" fill="#101010" stroke="#101010" stroke-width="0.22">THO Thrombin +</text>
<line x1="406.80" y1="518.15" x2="417.80" y2="518.15" stroke="#B4C28C" stroke-width="1.2" stroke-linecap="butt"/>
<circle cx="412.30" cy="518.15" r="2.0" fill="#B4C28C"/>
<text x="423.0" y="521.05" font-size="8.2" textLength="85.3" lengthAdjust="spacingAndGlyphs" fill="#101010" stroke="#101010" stroke-width="0.22">myr-KF7scr Thrombin +</text>
<line x1="406.80" y1="532.20" x2="417.80" y2="532.20" stroke="#1F3C7C" stroke-width="1.2" stroke-linecap="butt"/>
<circle cx="412.30" cy="532.20" r="2.0" fill="#1F3C7C"/>
<text x="423.0" y="535.1" font-size="8.2" textLength="75" lengthAdjust="spacingAndGlyphs" fill="#101010" stroke="#101010" stroke-width="0.22">myr-KF7 Thrombin +</text>
<line x1="406.80" y1="546.25" x2="417.80" y2="546.25" stroke="#E48C18" stroke-width="1.2" stroke-linecap="butt"/>
<circle cx="412.30" cy="546.25" r="2.0" fill="#E48C18"/>
<text x="423.0" y="549.15" font-size="8.2" textLength="77" lengthAdjust="spacingAndGlyphs" fill="#101010" stroke="#101010" stroke-width="0.22">Integrilin Thrombin +</text>
<line x1="499.15" y1="584.10" x2="499.15" y2="593.25" stroke="#E48C18" stroke-width="1.1" stroke-linecap="butt"/>
<line x1="496.25" y1="584.10" x2="502.05" y2="584.10" stroke="#E48C18" stroke-width="1.1" stroke-linecap="butt"/>
<line x1="496.25" y1="593.25" x2="502.05" y2="593.25" stroke="#E48C18" stroke-width="1.1" stroke-linecap="butt"/>
<polyline points="420.4,584.1 436.1,584.1 451.9,584.1 467.6,584.1 483.4,584.1 499.1,588.7" fill="none" stroke="#E48C18" stroke-width="1.5" stroke-linejoin="round" stroke-linecap="round"/>
<circle cx="420.40" cy="584.10" r="2.75" fill="#E48C18"/>
<circle cx="436.15" cy="584.10" r="2.75" fill="#E48C18"/>
<circle cx="451.90" cy="584.10" r="2.75" fill="#E48C18"/>
<circle cx="467.65" cy="584.10" r="2.75" fill="#E48C18"/>
<circle cx="483.40" cy="584.10" r="2.75" fill="#E48C18"/>
<circle cx="499.15" cy="588.68" r="2.75" fill="#E48C18"/>
<line x1="467.65" y1="602.40" x2="467.65" y2="653.40" stroke="#B4C28C" stroke-width="1.1" stroke-linecap="butt"/>
<line x1="464.75" y1="602.40" x2="470.55" y2="602.40" stroke="#B4C28C" stroke-width="1.1" stroke-linecap="butt"/>
<line x1="464.75" y1="653.40" x2="470.55" y2="653.40" stroke="#B4C28C" stroke-width="1.1" stroke-linecap="butt"/>
<line x1="483.40" y1="635.09" x2="483.40" y2="679.55" stroke="#B4C28C" stroke-width="1.1" stroke-linecap="butt"/>
<line x1="480.50" y1="635.09" x2="486.30" y2="635.09" stroke="#B4C28C" stroke-width="1.1" stroke-linecap="butt"/>
<line x1="480.50" y1="679.55" x2="486.30" y2="679.55" stroke="#B4C28C" stroke-width="1.1" stroke-linecap="butt"/>
<line x1="499.15" y1="656.01" x2="499.15" y2="683.47" stroke="#B4C28C" stroke-width="1.1" stroke-linecap="butt"/>
<line x1="496.25" y1="656.01" x2="502.05" y2="656.01" stroke="#B4C28C" stroke-width="1.1" stroke-linecap="butt"/>
<line x1="496.25" y1="683.47" x2="502.05" y2="683.47" stroke="#B4C28C" stroke-width="1.1" stroke-linecap="butt"/>
<polyline points="420.4,584.1 436.1,584.1 451.9,584.1 467.6,628.6 483.4,658.0 499.1,669.1" fill="none" stroke="#B4C28C" stroke-width="1.5" stroke-linejoin="round" stroke-linecap="round"/>
<circle cx="420.40" cy="584.10" r="2.75" fill="#B4C28C"/>
<circle cx="436.15" cy="584.10" r="2.75" fill="#B4C28C"/>
<circle cx="451.90" cy="584.10" r="2.75" fill="#B4C28C"/>
<circle cx="467.65" cy="628.56" r="2.75" fill="#B4C28C"/>
<circle cx="483.40" cy="657.97" r="2.75" fill="#B4C28C"/>
<circle cx="499.15" cy="669.09" r="2.75" fill="#B4C28C"/>
<line x1="451.90" y1="635.09" x2="451.90" y2="671.70" stroke="#1F3C7C" stroke-width="1.1" stroke-linecap="butt"/>
<line x1="449.00" y1="635.09" x2="454.80" y2="635.09" stroke="#1F3C7C" stroke-width="1.1" stroke-linecap="butt"/>
<line x1="449.00" y1="671.70" x2="454.80" y2="671.70" stroke="#1F3C7C" stroke-width="1.1" stroke-linecap="butt"/>
<line x1="467.65" y1="657.32" x2="467.65" y2="675.62" stroke="#1F3C7C" stroke-width="1.1" stroke-linecap="butt"/>
<line x1="464.75" y1="657.32" x2="470.55" y2="657.32" stroke="#1F3C7C" stroke-width="1.1" stroke-linecap="butt"/>
<line x1="464.75" y1="675.62" x2="470.55" y2="675.62" stroke="#1F3C7C" stroke-width="1.1" stroke-linecap="butt"/>
<line x1="483.40" y1="669.09" x2="483.40" y2="686.09" stroke="#1F3C7C" stroke-width="1.1" stroke-linecap="butt"/>
<line x1="480.50" y1="669.09" x2="486.30" y2="669.09" stroke="#1F3C7C" stroke-width="1.1" stroke-linecap="butt"/>
<line x1="480.50" y1="686.09" x2="486.30" y2="686.09" stroke="#1F3C7C" stroke-width="1.1" stroke-linecap="butt"/>
<line x1="499.15" y1="686.09" x2="499.15" y2="691.32" stroke="#1F3C7C" stroke-width="1.1" stroke-linecap="butt"/>
<line x1="496.25" y1="686.09" x2="502.05" y2="686.09" stroke="#1F3C7C" stroke-width="1.1" stroke-linecap="butt"/>
<line x1="496.25" y1="691.32" x2="502.05" y2="691.32" stroke="#1F3C7C" stroke-width="1.1" stroke-linecap="butt"/>
<polyline points="420.4,584.1 436.1,588.0 451.9,653.4 467.6,666.5 483.4,678.2 499.1,688.7" fill="none" stroke="#1F3C7C" stroke-width="1.5" stroke-linejoin="round" stroke-linecap="round"/>
<circle cx="420.40" cy="584.10" r="2.75" fill="#1F3C7C"/>
<circle cx="436.15" cy="588.02" r="2.75" fill="#1F3C7C"/>
<circle cx="451.90" cy="653.40" r="2.75" fill="#1F3C7C"/>
<circle cx="467.65" cy="666.47" r="2.75" fill="#1F3C7C"/>
<circle cx="483.40" cy="678.24" r="2.75" fill="#1F3C7C"/>
<circle cx="499.15" cy="688.70" r="2.75" fill="#1F3C7C"/>
<line x1="451.90" y1="620.71" x2="451.90" y2="659.94" stroke="#68B13B" stroke-width="1.1" stroke-linecap="butt"/>
<line x1="449.00" y1="620.71" x2="454.80" y2="620.71" stroke="#68B13B" stroke-width="1.1" stroke-linecap="butt"/>
<line x1="449.00" y1="659.94" x2="454.80" y2="659.94" stroke="#68B13B" stroke-width="1.1" stroke-linecap="butt"/>
<line x1="467.65" y1="642.94" x2="467.65" y2="680.86" stroke="#68B13B" stroke-width="1.1" stroke-linecap="butt"/>
<line x1="464.75" y1="642.94" x2="470.55" y2="642.94" stroke="#68B13B" stroke-width="1.1" stroke-linecap="butt"/>
<line x1="464.75" y1="680.86" x2="470.55" y2="680.86" stroke="#68B13B" stroke-width="1.1" stroke-linecap="butt"/>
<line x1="483.40" y1="670.39" x2="483.40" y2="684.78" stroke="#68B13B" stroke-width="1.1" stroke-linecap="butt"/>
<line x1="480.50" y1="670.39" x2="486.30" y2="670.39" stroke="#68B13B" stroke-width="1.1" stroke-linecap="butt"/>
<line x1="480.50" y1="684.78" x2="486.30" y2="684.78" stroke="#68B13B" stroke-width="1.1" stroke-linecap="butt"/>
<line x1="499.15" y1="682.82" x2="499.15" y2="690.01" stroke="#68B13B" stroke-width="1.1" stroke-linecap="butt"/>
<line x1="496.25" y1="682.82" x2="502.05" y2="682.82" stroke="#68B13B" stroke-width="1.1" stroke-linecap="butt"/>
<line x1="496.25" y1="690.01" x2="502.05" y2="690.01" stroke="#68B13B" stroke-width="1.1" stroke-linecap="butt"/>
<polyline points="420.4,584.1 436.1,586.1 451.9,640.3 467.6,661.9 483.4,678.2 499.1,686.7" fill="none" stroke="#68B13B" stroke-width="1.5" stroke-linejoin="round" stroke-linecap="round"/>
<circle cx="420.40" cy="584.10" r="2.75" fill="#68B13B"/>
<circle cx="436.15" cy="586.06" r="2.75" fill="#68B13B"/>
<circle cx="451.90" cy="640.32" r="2.75" fill="#68B13B"/>
<circle cx="467.65" cy="661.90" r="2.75" fill="#68B13B"/>
<circle cx="483.40" cy="678.24" r="2.75" fill="#68B13B"/>
<circle cx="499.15" cy="686.74" r="2.75" fill="#68B13B"/>
<line x1="467.65" y1="620.71" x2="467.65" y2="649.48" stroke="#A5112F" stroke-width="1.1" stroke-linecap="butt"/>
<line x1="464.75" y1="620.71" x2="470.55" y2="620.71" stroke="#A5112F" stroke-width="1.1" stroke-linecap="butt"/>
<line x1="464.75" y1="649.48" x2="470.55" y2="649.48" stroke="#A5112F" stroke-width="1.1" stroke-linecap="butt"/>
<line x1="483.40" y1="642.94" x2="483.40" y2="652.09" stroke="#A5112F" stroke-width="1.1" stroke-linecap="butt"/>
<line x1="480.50" y1="642.94" x2="486.30" y2="642.94" stroke="#A5112F" stroke-width="1.1" stroke-linecap="butt"/>
<line x1="480.50" y1="652.09" x2="486.30" y2="652.09" stroke="#A5112F" stroke-width="1.1" stroke-linecap="butt"/>
<line x1="499.15" y1="662.55" x2="499.15" y2="675.62" stroke="#A5112F" stroke-width="1.1" stroke-linecap="butt"/>
<line x1="496.25" y1="662.55" x2="502.05" y2="662.55" stroke="#A5112F" stroke-width="1.1" stroke-linecap="butt"/>
<line x1="496.25" y1="675.62" x2="502.05" y2="675.62" stroke="#A5112F" stroke-width="1.1" stroke-linecap="butt"/>
<polyline points="420.4,584.1 436.1,584.1 451.9,584.1 467.6,635.1 483.4,646.9 499.1,669.1" fill="none" stroke="#A5112F" stroke-width="1.5" stroke-linejoin="round" stroke-linecap="round"/>
<circle cx="420.40" cy="584.10" r="2.75" fill="#A5112F"/>
<circle cx="436.15" cy="584.10" r="2.75" fill="#A5112F"/>
<circle cx="451.90" cy="584.10" r="2.75" fill="#A5112F"/>
<circle cx="467.65" cy="635.09" r="2.75" fill="#A5112F"/>
<circle cx="483.40" cy="646.86" r="2.75" fill="#A5112F"/>
<circle cx="499.15" cy="669.09" r="2.75" fill="#A5112F"/>
<polyline points="420.4,584.1 436.1,584.1 451.9,584.1 467.6,584.1 483.4,584.1 499.1,584.1" fill="none" stroke="#A5112F" stroke-width="1.5" stroke-linejoin="round" stroke-linecap="round"/>
<circle cx="420.40" cy="584.10" r="2.45" fill="none" stroke="#A5112F" stroke-width="1.1"/>
<circle cx="436.15" cy="584.10" r="2.45" fill="none" stroke="#A5112F" stroke-width="1.1"/>
<circle cx="451.90" cy="584.10" r="2.45" fill="none" stroke="#A5112F" stroke-width="1.1"/>
<circle cx="467.65" cy="584.10" r="2.45" fill="none" stroke="#A5112F" stroke-width="1.1"/>
<circle cx="483.40" cy="584.10" r="2.45" fill="none" stroke="#A5112F" stroke-width="1.1"/>
<circle cx="499.15" cy="584.10" r="2.45" fill="none" stroke="#A5112F" stroke-width="1.1"/>
<line x1="412.40" y1="580.20" x2="412.40" y2="715.45" stroke="#111" stroke-width="1.5" stroke-linecap="butt"/>
<line x1="408.20" y1="714.85" x2="504.00" y2="714.85" stroke="#111" stroke-width="1.5" stroke-linecap="butt"/>
<line x1="408.20" y1="714.85" x2="412.40" y2="714.85" stroke="#111" stroke-width="1.4" stroke-linecap="butt"/>
<text x="403.2" y="718.25" font-size="9.7" text-anchor="end" fill="#101010" stroke="#101010" stroke-width="0.22">0</text>
<line x1="408.20" y1="688.70" x2="412.40" y2="688.70" stroke="#111" stroke-width="1.4" stroke-linecap="butt"/>
<text x="403.2" y="692.1" font-size="9.7" text-anchor="end" fill="#101010" stroke="#101010" stroke-width="0.22">20</text>
<line x1="408.20" y1="662.55" x2="412.40" y2="662.55" stroke="#111" stroke-width="1.4" stroke-linecap="butt"/>
<text x="403.2" y="665.95" font-size="9.7" text-anchor="end" fill="#101010" stroke="#101010" stroke-width="0.22">40</text>
<line x1="408.20" y1="636.40" x2="412.40" y2="636.40" stroke="#111" stroke-width="1.4" stroke-linecap="butt"/>
<text x="403.2" y="639.8" font-size="9.7" text-anchor="end" fill="#101010" stroke="#101010" stroke-width="0.22">60</text>
<line x1="408.20" y1="610.25" x2="412.40" y2="610.25" stroke="#111" stroke-width="1.4" stroke-linecap="butt"/>
<text x="403.2" y="613.65" font-size="9.7" text-anchor="end" fill="#101010" stroke="#101010" stroke-width="0.22">80</text>
<line x1="408.20" y1="584.10" x2="412.40" y2="584.10" stroke="#111" stroke-width="1.4" stroke-linecap="butt"/>
<text x="403.2" y="587.5" font-size="9.7" text-anchor="end" fill="#101010" stroke="#101010" stroke-width="0.22">100</text>
<line x1="420.40" y1="714.85" x2="420.40" y2="719.15" stroke="#111" stroke-width="1.4" stroke-linecap="butt"/>
<text x="420.4" y="731.9" font-size="9.7" text-anchor="middle" fill="#101010" stroke="#101010" stroke-width="0.22">0</text>
<line x1="436.15" y1="714.85" x2="436.15" y2="719.15" stroke="#111" stroke-width="1.4" stroke-linecap="butt"/>
<text x="436.15" y="731.9" font-size="9.7" text-anchor="middle" fill="#101010" stroke="#101010" stroke-width="0.22">10</text>
<line x1="451.90" y1="714.85" x2="451.90" y2="719.15" stroke="#111" stroke-width="1.4" stroke-linecap="butt"/>
<text x="451.9" y="731.9" font-size="9.7" text-anchor="middle" fill="#101010" stroke="#101010" stroke-width="0.22">20</text>
<line x1="467.65" y1="714.85" x2="467.65" y2="719.15" stroke="#111" stroke-width="1.4" stroke-linecap="butt"/>
<text x="467.65" y="731.9" font-size="9.7" text-anchor="middle" fill="#101010" stroke="#101010" stroke-width="0.22">30</text>
<line x1="483.40" y1="714.85" x2="483.40" y2="719.15" stroke="#111" stroke-width="1.4" stroke-linecap="butt"/>
<text x="483.4" y="731.9" font-size="9.7" text-anchor="middle" fill="#101010" stroke="#101010" stroke-width="0.22">40</text>
<line x1="499.15" y1="714.85" x2="499.15" y2="719.15" stroke="#111" stroke-width="1.4" stroke-linecap="butt"/>
<text x="499.15" y="731.9" font-size="9.7" text-anchor="middle" fill="#101010" stroke="#101010" stroke-width="0.22">50</text>
<text transform="translate(379.0 647) rotate(-90)" font-size="12.5" text-anchor="middle" textLength="66.5" lengthAdjust="spacingAndGlyphs" fill="#101010">Clot volume %</text>
<text x="458.6" y="750" font-size="12.8" text-anchor="middle" textLength="50.4" lengthAdjust="spacingAndGlyphs" fill="#101010">Time (min)</text>
</svg></body></html>
